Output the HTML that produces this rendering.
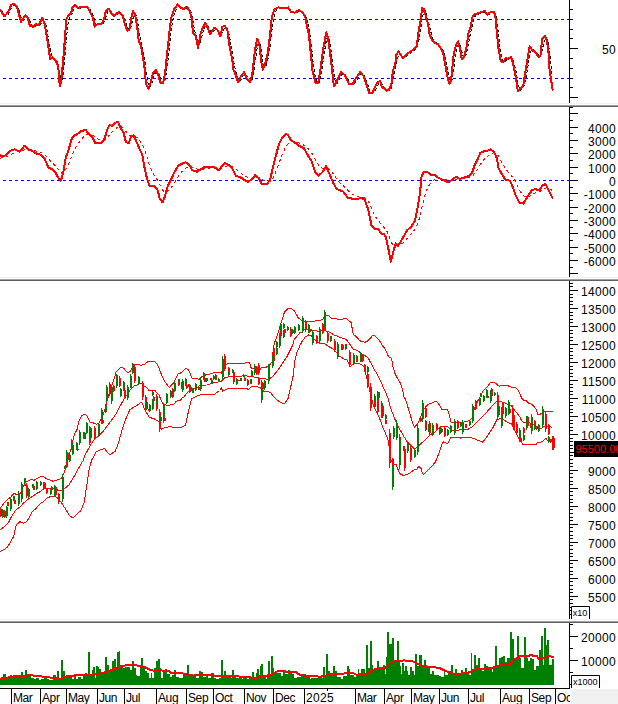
<!DOCTYPE html><html><head><meta charset="utf-8"><style>html,body{margin:0;padding:0;background:#fff;}body{width:618px;height:704px;overflow:hidden;}svg{display:block;}</style></head><body><svg width="618" height="704" viewBox="0 0 618 704">
<defs><clipPath id="c1"><rect x="0" y="0" width="569" height="103"/></clipPath><clipPath id="c2"><rect x="0" y="107" width="569" height="170"/></clipPath><clipPath id="c3"><rect x="0" y="280" width="569" height="339"/></clipPath><clipPath id="c4"><rect x="0" y="623" width="569" height="65"/></clipPath></defs>
<rect x="0" y="0" width="618" height="704" fill="#fff"/>
<g clip-path="url(#c1)">
<line x1="3" y1="19.5" x2="569" y2="19.5" stroke="#0000ff" stroke-width="1" stroke-dasharray="3,3"/>
<line x1="3" y1="78.5" x2="569" y2="78.5" stroke="#0000ff" stroke-width="1" stroke-dasharray="3,3"/>
<polyline points="0.0,10.2 1.0,10.9 2.0,11.6 3.0,12.4 4.0,13.8 5.0,14.9 6.0,15.4 7.0,15.2 8.0,14.4 9.0,13.0 10.0,11.4 11.0,9.4 12.0,7.5 13.0,6.0 14.0,5.0 15.0,4.8 16.0,5.2 17.0,6.1 18.0,7.8 19.0,10.2 20.0,13.2 21.0,16.9 22.0,19.2 23.0,20.2 24.0,20.0 25.0,18.4 26.0,17.3 27.0,16.8 28.0,17.3 29.0,19.0 30.0,21.5 31.0,23.9 32.0,25.8 33.0,26.8 34.0,26.8 35.0,26.5 36.0,26.0 37.0,25.5 38.0,25.2 39.0,25.2 40.0,24.7 41.0,23.7 42.0,22.2 43.0,20.8 44.0,20.7 45.0,22.1 46.0,25.5 47.0,30.1 48.0,35.7 49.0,41.9 50.0,48.3 51.0,53.5 52.0,56.8 53.0,58.5 54.0,58.8 55.0,59.1 56.0,59.9 57.0,61.3 58.0,63.0 59.0,67.8 60.0,73.8 61.0,78.1 62.0,79.8 63.0,75.4 64.0,66.8 65.0,55.8 66.0,43.6 67.0,32.7 68.0,24.2 69.0,18.7 70.0,16.4 71.0,15.2 72.0,13.5 73.0,11.3 74.0,9.3 75.0,7.3 76.0,6.4 77.0,6.6 78.0,7.0 79.0,7.6 80.0,8.0 81.0,8.0 82.0,7.9 83.0,7.8 84.0,7.8 85.0,7.8 86.0,7.7 87.0,7.6 88.0,7.7 89.0,8.4 90.0,9.6 91.0,11.3 92.0,13.3 93.0,15.3 94.0,18.1 95.0,21.3 96.0,23.7 97.0,25.3 98.0,25.6 99.0,25.1 100.0,24.8 101.0,24.8 102.0,24.5 103.0,23.8 104.0,22.4 105.0,20.1 106.0,16.9 107.0,14.0 108.0,11.6 109.0,10.3 110.0,10.4 111.0,11.0 112.0,12.2 113.0,13.7 114.0,14.9 115.0,15.5 116.0,15.4 117.0,14.9 118.0,14.1 119.0,13.5 120.0,13.3 121.0,13.4 122.0,14.0 123.0,15.3 124.0,17.3 125.0,19.9 126.0,23.0 127.0,26.1 128.0,28.4 129.0,29.8 130.0,29.5 131.0,27.1 132.0,23.3 133.0,18.6 134.0,15.3 135.0,13.8 136.0,15.0 137.0,18.8 138.0,24.1 139.0,30.8 140.0,36.6 141.0,41.6 142.0,46.2 143.0,50.4 144.0,55.6 145.0,62.3 146.0,70.4 147.0,77.3 148.0,83.3 149.0,86.8 150.0,86.9 151.0,85.8 152.0,83.1 153.0,79.4 154.0,76.2 155.0,73.5 156.0,71.9 157.0,71.8 158.0,72.5 159.0,74.2 160.0,76.9 161.0,79.7 162.0,81.9 163.0,83.3 164.0,82.6 165.0,80.2 166.0,75.4 167.0,68.3 168.0,60.0 169.0,50.7 170.0,41.5 171.0,32.7 172.0,25.2 173.0,19.4 174.0,15.0 175.0,12.1 176.0,9.8 177.0,7.9 178.0,6.7 179.0,6.2 180.0,6.4 181.0,7.1 182.0,8.0 183.0,8.6 184.0,9.0 185.0,9.0 186.0,8.7 187.0,8.2 188.0,8.1 189.0,8.6 190.0,9.9 191.0,12.1 192.0,15.6 193.0,21.2 194.0,26.6 195.0,31.6 196.0,35.4 197.0,37.9 198.0,41.2 199.0,43.0 200.0,42.8 201.0,40.3 202.0,36.0 203.0,32.2 204.0,29.3 205.0,27.0 206.0,25.6 207.0,25.3 208.0,26.2 209.0,28.1 210.0,30.5 211.0,32.1 212.0,32.7 213.0,32.3 214.0,31.0 215.0,29.9 216.0,29.3 217.0,29.3 218.0,29.9 219.0,31.2 220.0,32.8 221.0,33.8 222.0,33.2 223.0,31.5 224.0,29.2 225.0,27.4 226.0,27.2 227.0,28.1 228.0,30.2 229.0,34.2 230.0,39.3 231.0,45.2 232.0,51.0 233.0,57.0 234.0,62.6 235.0,67.6 236.0,72.1 237.0,75.3 238.0,78.0 239.0,79.8 240.0,80.4 241.0,79.8 242.0,78.0 243.0,76.2 244.0,74.7 245.0,74.2 246.0,74.6 247.0,76.1 248.0,78.1 249.0,80.0 250.0,81.3 251.0,81.2 252.0,80.0 253.0,76.5 254.0,70.6 255.0,63.5 256.0,55.9 257.0,48.9 258.0,44.4 259.0,42.6 260.0,43.9 261.0,48.9 262.0,55.1 263.0,61.6 264.0,65.8 265.0,66.9 266.0,65.7 267.0,62.5 268.0,58.6 269.0,53.2 270.0,46.8 271.0,38.9 272.0,30.3 273.0,23.0 274.0,16.8 275.0,12.9 276.0,10.8 277.0,9.5 278.0,8.8 279.0,8.4 280.0,8.2 281.0,8.2 282.0,8.4 283.0,8.7 284.0,8.8 285.0,8.9 286.0,8.9 287.0,8.8 288.0,8.6 289.0,8.6 290.0,9.1 291.0,10.1 292.0,11.3 293.0,12.2 294.0,12.8 295.0,12.9 296.0,12.8 297.0,12.5 298.0,12.0 299.0,11.4 300.0,11.2 301.0,11.3 302.0,11.7 303.0,12.5 304.0,13.4 305.0,14.5 306.0,16.7 307.0,20.0 308.0,24.0 309.0,28.8 310.0,35.0 311.0,42.3 312.0,51.2 313.0,60.7 314.0,68.5 315.0,74.7 316.0,79.0 317.0,81.5 318.0,83.1 319.0,82.5 320.0,79.7 321.0,75.1 322.0,68.8 323.0,62.0 324.0,55.1 325.0,48.6 326.0,42.6 327.0,38.5 328.0,36.9 329.0,38.4 330.0,43.1 331.0,49.8 332.0,57.6 333.0,65.9 334.0,74.3 335.0,80.2 336.0,83.4 337.0,84.0 338.0,82.0 339.0,80.0 340.0,78.0 341.0,76.1 342.0,74.6 343.0,73.8 344.0,73.8 345.0,74.5 346.0,75.7 347.0,77.3 348.0,79.3 349.0,81.4 350.0,83.0 351.0,84.1 352.0,84.6 353.0,84.4 354.0,83.8 355.0,82.7 356.0,81.2 357.0,79.5 358.0,77.9 359.0,76.4 360.0,74.9 361.0,74.0 362.0,73.8 363.0,74.2 364.0,75.5 365.0,77.4 366.0,79.6 367.0,82.2 368.0,85.2 369.0,88.3 370.0,90.7 371.0,92.5 372.0,93.4 373.0,93.1 374.0,92.2 375.0,90.7 376.0,88.7 377.0,86.5 378.0,84.7 379.0,83.4 380.0,82.4 381.0,82.6 382.0,84.0 383.0,85.5 384.0,87.2 385.0,88.5 386.0,89.1 387.0,89.8 388.0,90.2 389.0,90.3 390.0,89.8 391.0,88.6 392.0,85.9 393.0,81.3 394.0,76.3 395.0,71.0 396.0,65.5 397.0,61.2 398.0,57.4 399.0,54.3 400.0,53.5 401.0,53.7 402.0,54.8 403.0,56.4 404.0,57.4 405.0,57.7 406.0,57.2 407.0,56.2 408.0,55.1 409.0,54.2 410.0,53.4 411.0,52.7 412.0,52.0 413.0,51.4 414.0,50.8 415.0,50.0 416.0,49.0 417.0,47.6 418.0,44.4 419.0,39.8 420.0,34.1 421.0,27.2 422.0,20.3 423.0,15.1 424.0,11.3 425.0,10.4 426.0,12.5 427.0,15.5 428.0,19.2 429.0,23.6 430.0,28.1 431.0,32.4 432.0,36.4 433.0,38.9 434.0,40.6 435.0,41.9 436.0,42.7 437.0,43.5 438.0,44.1 439.0,44.8 440.0,45.8 441.0,47.1 442.0,48.7 443.0,50.4 444.0,53.0 445.0,56.6 446.0,61.1 447.0,66.5 448.0,71.9 449.0,76.6 450.0,80.1 451.0,81.6 452.0,79.6 453.0,74.3 454.0,66.9 455.0,59.2 456.0,52.6 457.0,48.1 458.0,45.2 459.0,44.1 460.0,45.1 461.0,48.0 462.0,52.3 463.0,55.6 464.0,57.5 465.0,57.1 466.0,54.7 467.0,51.3 468.0,46.3 469.0,40.7 470.0,35.6 471.0,30.9 472.0,26.6 473.0,22.9 474.0,19.4 475.0,16.6 476.0,15.2 477.0,14.7 478.0,14.3 479.0,13.9 480.0,13.5 481.0,13.1 482.0,12.8 483.0,12.5 484.0,12.2 485.0,12.0 486.0,12.2 487.0,12.8 488.0,13.5 489.0,14.0 490.0,14.0 491.0,13.5 492.0,12.9 493.0,12.5 494.0,12.5 495.0,13.1 496.0,16.0 497.0,21.6 498.0,29.4 499.0,38.7 500.0,47.0 501.0,53.8 502.0,58.3 503.0,61.1 504.0,62.2 505.0,61.6 506.0,60.6 507.0,59.7 508.0,59.2 509.0,59.0 510.0,58.8 511.0,58.4 512.0,58.7 513.0,59.9 514.0,62.6 515.0,66.7 516.0,71.5 517.0,77.1 518.0,82.8 519.0,87.0 520.0,89.6 521.0,90.3 522.0,89.1 523.0,87.8 524.0,85.7 525.0,82.2 526.0,77.6 527.0,71.9 528.0,65.7 529.0,59.6 530.0,54.3 531.0,50.8 532.0,49.1 533.0,49.2 534.0,50.4 535.0,51.4 536.0,52.3 537.0,53.3 538.0,54.4 539.0,55.7 540.0,56.4 541.0,55.3 542.0,51.5 543.0,46.6 544.0,41.9 545.0,38.3 546.0,37.7 547.0,38.6 548.0,41.7 549.0,47.9 550.0,56.2 551.0,65.7 552.0,74.9" fill="none" shape-rendering="crispEdges" stroke="#000" stroke-width="1" stroke-dasharray="3,2"/>
<polyline points="0.0,9.7 4.5,16.2 8.1,12.1 11.3,4.9 13.8,3.6 17.0,7.3 21.0,21.8 25.1,15.4 27.5,17.0 29.9,25.9 33.2,26.7 35.6,24.3 38.8,25.1 42.4,17.8 44.5,23.5 46.9,37.2 50.2,59.1 52.6,57.4 55.8,60.7 58.3,66.3 59.1,80.9 60.2,85.8 61.5,77.7 63.9,51.8 66.3,19.4 68.0,16.2 71.2,12.9 72.8,6.5 75.2,5.2 77.7,7.8 80.9,7.3 84.1,7.3 87.4,6.8 89.8,11.3 93.0,17.8 94.7,26.7 97.1,24.3 101.5,24.3 103.9,19.4 106.0,10.5 108.8,8.9 111.2,12.9 113.6,16.2 116.0,13.8 119.0,12.1 122.5,15.4 124.9,24.3 127.4,30.7 129.3,29.9 131.4,17.8 133.0,11.0 135.1,14.6 137.4,28.3 138.7,40.5 141.1,46.1 142.7,56.6 144.4,66.3 146.0,84.1 148.4,88.7 150.8,82.5 152.9,72.8 155.7,69.9 158.4,75.2 160.5,83.3 163.0,83.3 164.9,74.4 167.5,50.2 169.4,32.4 171.1,18.6 174.3,8.9 177.5,4.5 180.8,8.1 184.0,8.9 186.9,6.5 189.7,11.3 191.6,17.8 192.9,32.4 195.7,36.4 198.1,47.7 200.5,34.0 202.9,27.5 205.4,22.7 207.8,28.3 210.2,34.0 214.3,27.8 217.5,29.9 220.4,36.4 222.4,26.7 224.8,25.9 227.5,30.7 229.6,46.9 232.1,58.3 233.4,69.6 236.1,76.1 238.2,82.5 241.0,76.1 244.2,72.0 247.0,79.3 249.9,82.5 252.3,74.4 254.7,51.8 257.2,38.8 259.3,43.7 261.2,61.5 262.8,69.6 265.2,63.9 267.7,53.4 270.1,34.0 271.7,17.8 274.1,9.7 278.2,7.3 282.2,8.4 286.3,8.4 288.2,7.3 291.1,12.1 294.7,12.6 298.8,10.0 302.8,12.9 305.2,16.2 306.8,25.9 308.9,34.0 310.9,55.0 312.5,71.2 315.7,83.3 318.2,83.3 320.6,68.0 323.8,45.3 326.3,32.4 327.9,37.2 330.3,55.0 332.2,71.2 333.9,86.6 336.8,80.9 341.3,72.0 344.9,75.2 348.9,84.1 352.6,84.1 356.2,77.7 360.2,72.0 363.5,76.1 366.7,85.0 369.1,93.0 372.4,93.0 374.8,87.4 377.2,82.5 380.3,80.9 381.9,87.4 384.5,88.2 386.8,90.6 389.4,89.0 391.3,85.0 392.9,71.2 395.4,63.1 396.2,55.0 398.6,51.5 401.0,55.0 403.1,58.6 405.9,55.0 409.9,51.8 414.0,49.4 416.9,45.3 418.5,32.4 420.5,21.0 422.1,8.1 424.0,8.9 426.1,17.8 428.2,24.3 429.4,34.0 431.8,39.6 435.0,42.9 438.3,44.5 440.7,48.5 443.1,52.6 445.5,66.3 448.0,79.3 449.6,84.1 451.2,79.3 453.6,55.0 456.1,44.5 458.2,41.3 460.1,49.4 461.7,59.1 464.1,56.6 466.6,46.9 468.7,31.6 470.6,27.5 472.6,16.2 474.7,14.2 477.1,13.8 478.2,12.9 481.5,12.1 484.7,11.0 487.6,14.6 490.4,12.1 493.6,11.7 495.2,14.6 496.8,32.4 498.5,48.5 500.9,61.5 503.3,62.3 505.7,57.9 508.2,59.1 510.9,56.6 513.0,63.1 515.8,77.7 517.9,91.4 521.1,88.2 523.5,84.1 526.0,68.0 529.7,46.1 532.4,50.2 535.7,52.6 538.9,57.4 540.5,55.0 542.2,38.8 544.9,35.6 547.0,41.3 548.6,53.4 549.4,68.0 552.7,90.6" fill="none" shape-rendering="crispEdges" stroke="#ff0000" stroke-width="2" stroke-linejoin="round"/>
</g>
<g clip-path="url(#c2)">
<line x1="3" y1="180.5" x2="569" y2="180.5" stroke="#0000ff" stroke-width="1" stroke-dasharray="3,3"/>
<polyline points="0.0,158.3 1.0,158.0 2.0,157.7 3.0,157.5 4.0,157.3 5.0,157.1 6.0,156.8 7.0,156.5 8.0,156.1 9.0,155.6 10.0,155.0 11.0,154.5 12.0,153.9 13.0,153.4 14.0,152.9 15.0,152.4 16.0,152.1 17.0,151.9 18.0,151.8 19.0,151.8 20.0,151.7 21.0,151.5 22.0,151.1 23.0,150.7 24.0,150.1 25.0,149.6 26.0,149.3 27.0,149.2 28.0,149.2 29.0,149.3 30.0,149.4 31.0,149.5 32.0,149.7 33.0,149.9 34.0,150.2 35.0,150.5 36.0,150.9 37.0,151.2 38.0,151.6 39.0,151.9 40.0,152.3 41.0,152.6 42.0,153.0 43.0,153.5 44.0,154.1 45.0,154.8 46.0,155.8 47.0,156.9 48.0,158.1 49.0,159.4 50.0,160.6 51.0,161.6 52.0,162.6 53.0,163.6 54.0,164.7 55.0,165.7 56.0,166.7 57.0,167.8 58.0,169.0 59.0,170.3 60.0,171.6 61.0,172.7 62.0,173.3 63.0,173.3 64.0,172.6 65.0,171.2 66.0,169.3 67.0,167.4 68.0,165.3 69.0,163.1 70.0,160.7 71.0,158.1 72.0,155.6 73.0,153.2 74.0,150.9 75.0,148.9 76.0,147.1 77.0,145.4 78.0,143.8 79.0,142.4 80.0,141.0 81.0,139.8 82.0,138.6 83.0,137.6 84.0,136.6 85.0,135.8 86.0,135.1 87.0,134.6 88.0,134.4 89.0,134.4 90.0,134.5 91.0,134.8 92.0,135.1 93.0,135.5 94.0,136.2 95.0,137.0 96.0,137.8 97.0,138.5 98.0,139.1 99.0,139.6 100.0,140.1 101.0,140.5 102.0,140.7 103.0,140.7 104.0,140.5 105.0,140.1 106.0,139.3 107.0,138.1 108.0,136.8 109.0,135.4 110.0,134.1 111.0,133.0 112.0,132.0 113.0,131.1 114.0,130.2 115.0,129.3 116.0,128.4 117.0,127.6 118.0,126.9 119.0,126.6 120.0,126.6 121.0,126.8 122.0,127.2 123.0,127.8 124.0,128.7 125.0,129.9 126.0,131.5 127.0,132.9 128.0,134.2 129.0,135.3 130.0,135.9 131.0,136.0 132.0,135.9 133.0,135.9 134.0,136.0 135.0,136.3 136.0,136.8 137.0,137.6 138.0,138.6 139.0,139.8 140.0,141.1 141.0,142.5 142.0,144.0 143.0,146.0 144.0,148.4 145.0,151.2 146.0,154.2 147.0,157.3 148.0,160.5 149.0,163.6 150.0,166.5 151.0,169.0 152.0,171.2 153.0,173.1 154.0,174.8 155.0,176.4 156.0,177.9 157.0,179.4 158.0,181.0 159.0,182.9 160.0,185.0 161.0,187.0 162.0,188.9 163.0,190.5 164.0,191.6 165.0,192.2 166.0,192.3 167.0,191.8 168.0,191.0 169.0,190.1 170.0,189.0 171.0,187.8 172.0,186.4 173.0,185.0 174.0,183.5 175.0,181.9 176.0,180.3 177.0,178.7 178.0,177.0 179.0,175.5 180.0,174.1 181.0,172.9 182.0,171.7 183.0,170.6 184.0,169.6 185.0,168.6 186.0,167.8 187.0,167.2 188.0,166.8 189.0,166.6 190.0,166.5 191.0,166.7 192.0,167.1 193.0,167.5 194.0,168.0 195.0,168.4 196.0,168.8 197.0,169.1 198.0,169.4 199.0,169.5 200.0,169.6 201.0,169.5 202.0,169.4 203.0,169.2 204.0,169.0 205.0,168.7 206.0,168.5 207.0,168.3 208.0,168.2 209.0,168.1 210.0,168.0 211.0,167.9 212.0,167.8 213.0,167.8 214.0,167.7 215.0,167.8 216.0,167.8 217.0,168.0 218.0,168.2 219.0,168.5 220.0,168.5 221.0,168.4 222.0,168.1 223.0,167.6 224.0,167.1 225.0,166.6 226.0,166.2 227.0,165.9 228.0,165.8 229.0,165.7 230.0,165.8 231.0,166.0 232.0,166.3 233.0,166.8 234.0,167.5 235.0,168.3 236.0,169.3 237.0,170.2 238.0,171.0 239.0,171.8 240.0,172.5 241.0,173.2 242.0,173.8 243.0,174.5 244.0,175.2 245.0,175.9 246.0,176.5 247.0,177.1 248.0,177.7 249.0,178.2 250.0,178.5 251.0,178.7 252.0,178.7 253.0,178.6 254.0,178.3 255.0,178.0 256.0,177.7 257.0,177.5 258.0,177.6 259.0,177.7 260.0,178.1 261.0,178.6 262.0,179.4 263.0,180.0 264.0,180.6 265.0,181.1 266.0,181.5 267.0,181.8 268.0,181.9 269.0,181.8 270.0,181.6 271.0,180.8 272.0,179.6 273.0,178.0 274.0,176.0 275.0,173.8 276.0,171.4 277.0,168.9 278.0,166.1 279.0,163.3 280.0,160.5 281.0,157.9 282.0,155.3 283.0,152.9 284.0,150.7 285.0,148.6 286.0,146.7 287.0,145.1 288.0,143.8 289.0,142.9 290.0,142.3 291.0,142.1 292.0,141.9 293.0,141.9 294.0,141.9 295.0,142.0 296.0,142.2 297.0,142.4 298.0,142.7 299.0,143.1 300.0,143.5 301.0,144.0 302.0,144.4 303.0,144.8 304.0,145.3 305.0,145.9 306.0,146.7 307.0,147.6 308.0,148.6 309.0,149.7 310.0,150.9 311.0,152.1 312.0,153.5 313.0,155.0 314.0,156.8 315.0,158.7 316.0,160.6 317.0,162.4 318.0,164.1 319.0,165.5 320.0,166.7 321.0,167.5 322.0,168.2 323.0,168.6 324.0,168.7 325.0,168.6 326.0,168.3 327.0,168.3 328.0,168.6 329.0,169.2 330.0,170.0 331.0,171.0 332.0,172.2 333.0,173.5 334.0,174.9 335.0,176.3 336.0,177.8 337.0,179.3 338.0,180.6 339.0,181.8 340.0,182.9 341.0,183.9 342.0,184.9 343.0,185.7 344.0,186.6 345.0,187.6 346.0,188.6 347.0,189.6 348.0,190.7 349.0,191.6 350.0,192.5 351.0,193.2 352.0,193.9 353.0,194.6 354.0,195.1 355.0,195.7 356.0,196.1 357.0,196.5 358.0,196.8 359.0,197.1 360.0,197.2 361.0,197.3 362.0,197.4 363.0,197.6 364.0,197.8 365.0,198.2 366.0,198.9 367.0,199.9 368.0,201.0 369.0,202.6 370.0,204.6 371.0,207.0 372.0,209.5 373.0,211.7 374.0,213.9 375.0,215.8 376.0,217.5 377.0,219.0 378.0,220.3 379.0,221.6 380.0,222.9 381.0,224.2 382.0,225.5 383.0,226.6 384.0,227.6 385.0,228.7 386.0,229.8 387.0,231.4 388.0,233.5 389.0,235.9 390.0,238.6 391.0,241.6 392.0,243.6 393.0,244.8 394.0,245.4 395.0,245.5 396.0,245.3 397.0,245.2 398.0,245.3 399.0,245.2 400.0,244.9 401.0,244.4 402.0,243.7 403.0,242.9 404.0,242.0 405.0,240.9 406.0,239.8 407.0,238.6 408.0,237.4 409.0,236.2 410.0,235.1 411.0,234.1 412.0,233.0 413.0,231.8 414.0,230.5 415.0,229.2 416.0,227.4 417.0,225.2 418.0,222.6 419.0,219.6 420.0,216.1 421.0,211.7 422.0,207.0 423.0,202.7 424.0,198.7 425.0,195.2 426.0,192.2 427.0,189.5 428.0,187.3 429.0,185.5 430.0,184.0 431.0,182.8 432.0,181.7 433.0,180.9 434.0,180.1 435.0,179.5 436.0,179.1 437.0,178.8 438.0,178.6 439.0,178.5 440.0,178.5 441.0,178.6 442.0,178.7 443.0,178.9 444.0,179.0 445.0,179.2 446.0,179.5 447.0,179.8 448.0,180.1 449.0,180.3 450.0,180.5 451.0,180.5 452.0,180.4 453.0,180.2 454.0,180.0 455.0,179.7 456.0,179.3 457.0,179.0 458.0,178.8 459.0,178.8 460.0,178.8 461.0,178.8 462.0,178.7 463.0,178.6 464.0,178.5 465.0,178.3 466.0,178.2 467.0,178.0 468.0,177.8 469.0,177.5 470.0,177.2 471.0,176.8 472.0,176.2 473.0,175.4 474.0,174.3 475.0,173.0 476.0,171.7 477.0,170.2 478.0,168.7 479.0,167.0 480.0,165.3 481.0,163.6 482.0,162.1 483.0,160.8 484.0,159.6 485.0,158.4 486.0,157.5 487.0,156.6 488.0,155.8 489.0,155.1 490.0,154.4 491.0,153.7 492.0,153.3 493.0,153.0 494.0,152.9 495.0,153.1 496.0,153.5 497.0,154.2 498.0,155.6 499.0,157.3 500.0,159.1 501.0,160.8 502.0,162.5 503.0,164.3 504.0,166.0 505.0,167.7 506.0,169.3 507.0,170.6 508.0,171.9 509.0,173.0 510.0,174.0 511.0,175.2 512.0,176.5 513.0,177.9 514.0,179.5 515.0,181.3 516.0,183.2 517.0,185.1 518.0,187.1 519.0,189.0 520.0,190.8 521.0,192.4 522.0,193.9 523.0,195.1 524.0,196.1 525.0,196.7 526.0,197.0 527.0,197.1 528.0,196.9 529.0,196.6 530.0,196.1 531.0,195.5 532.0,194.8 533.0,194.2 534.0,193.6 535.0,193.0 536.0,192.5 537.0,192.2 538.0,191.9 539.0,191.7 540.0,191.3 541.0,190.8 542.0,190.3 543.0,189.6 544.0,189.0 545.0,188.3 546.0,187.9 547.0,187.7 548.0,187.9 549.0,188.3 550.0,188.9 551.0,189.7 552.0,190.7" fill="none" shape-rendering="crispEdges" stroke="#ff0000" stroke-width="1" stroke-dasharray="3,3"/>
<polyline points="0.0,155.3 3.6,156.5 7.2,154.1 10.9,150.5 14.5,149.3 19.3,151.7 21.7,149.3 24.6,145.6 27.8,149.3 31.4,150.5 36.2,153.4 41.1,154.8 44.7,158.9 48.3,167.4 51.9,169.3 56.0,173.4 59.2,179.5 60.9,180.7 63.3,172.2 65.7,157.7 68.8,149.3 71.3,139.6 73.7,136.0 77.3,134.1 80.9,131.2 85.7,129.9 89.4,134.8 93.0,138.4 95.4,143.2 101.0,143.2 104.7,138.4 107.1,129.9 109.5,125.1 112.4,125.8 115.5,122.7 118.0,122.0 120.4,127.5 123.5,132.4 125.9,142.0 128.8,143.2 131.2,136.0 133.6,135.5 136.1,140.8 139.7,149.3 142.1,154.1 144.5,167.4 146.9,178.3 149.3,185.5 154.2,186.2 157.8,190.3 159.7,198.8 162.6,202.4 165.0,196.4 167.5,186.7 171.1,179.5 174.7,171.7 178.3,165.7 182.0,163.8 185.6,162.1 189.2,165.0 192.4,170.3 197.2,171.7 200.9,169.3 204.5,166.9 209.3,167.4 214.2,167.4 219.0,170.3 222.6,165.0 225.0,163.0 228.6,165.0 232.3,168.6 235.9,175.8 240.7,177.5 244.3,179.9 248.0,181.9 251.6,179.5 255.2,175.1 258.8,178.3 262.0,184.3 266.8,184.3 270.2,179.5 272.6,168.6 275.7,156.5 278.9,144.4 281.8,138.4 285.4,134.1 287.9,134.8 291.0,140.3 295.9,143.2 299.5,146.1 303.8,148.1 307.9,155.3 311.6,161.3 315.2,172.2 318.3,175.8 322.4,172.2 326.1,166.2 329.7,174.6 333.3,183.1 336.9,189.1 343.0,191.5 347.8,197.6 352.6,198.8 357.5,199.3 361.1,197.6 364.7,200.0 368.3,209.7 371.5,225.4 374.9,229.0 378.0,229.0 381.6,233.8 383.6,233.8 386.0,237.4 388.5,249.5 390.9,261.6 393.3,251.9 395.7,243.5 398.1,245.9 401.7,239.9 407.1,230.2 411.4,226.6 415.0,220.5 417.4,208.4 419.9,194.0 421.5,177.0 423.5,172.2 427.1,171.7 430.7,174.6 435.1,175.4 439.2,178.3 444.0,180.2 448.4,182.4 452.5,179.5 456.1,176.6 459.7,179.0 464.5,177.5 469.4,175.8 472.3,172.2 474.7,165.0 477.8,158.9 480.3,152.9 484.7,151.0 488.3,150.5 490.7,149.3 494.3,152.4 496.7,157.7 498.7,168.6 501.6,173.4 505.2,179.5 510.0,180.7 513.2,187.9 516.1,196.4 519.7,203.1 523.3,203.6 526.9,197.6 531.8,190.3 535.4,189.1 539.0,190.3 542.6,185.5 545.5,183.8 548.7,190.3 552.8,198.8" fill="none" shape-rendering="crispEdges" stroke="#ff0000" stroke-width="2" stroke-linejoin="round"/>
</g>
<g clip-path="url(#c3)">
<polyline points="0.0,508.3 2.8,504.7 7.1,499.8 10.7,497.2 13.5,493.8 14.9,493.5 16.4,495.0 18.8,494.2 21.1,492.7 22.7,488.0 25.0,482.5 26.6,481.3 28.9,480.9 31.3,479.4 34.1,480.2 38.4,477.8 41.9,476.3 44.9,477.5 47.7,479.5 50.8,480.2 53.2,481.4 54.7,480.6 58.1,479.6 61.2,478.8 62.4,476.1 63.6,473.8 64.8,470.6 65.9,465.9 66.7,462.0 67.9,458.1 69.5,453.4 71.0,449.5 72.2,444.0 73.4,437.8 74.9,433.1 76.9,430.0 79.1,420.5 81.6,415.7 85.1,414.0 87.6,417.0 90.2,422.2 92.6,422.6 96.4,424.2 99.0,422.9 100.9,419.7 102.8,415.2 104.7,410.1 106.6,402.4 108.5,396.0 110.5,388.4 112.4,383.9 114.3,378.1 116.2,371.7 118.8,369.2 121.3,367.0 123.9,368.5 126.4,371.7 128.4,372.8 130.3,371.1 132.2,367.9 133.4,365.4 135.4,364.4 139.2,364.4 140.9,365.4 144.4,364.4 146.4,362.4 149.0,361.5 154.5,361.3 157.4,364.7 158.7,367.3 160.6,372.5 162.5,377.0 164.5,381.2 169.4,387.5 174.0,382.3 178.1,373.6 180.7,373.0 186.0,368.1 187.9,369.4 189.9,372.7 191.8,377.8 192.5,378.5 197.7,378.5 198.9,379.8 200.2,377.8 202.2,376.5 204.1,375.6 206.7,374.5 210.6,373.9 211.9,373.3 214.5,372.3 219.7,372.3 221.3,373.3 222.1,370.9 223.8,364.9 226.0,364.3 229.0,363.3 244.6,363.3 245.7,362.3 249.5,362.3 250.2,364.7 251.3,368.4 260.3,369.1 261.4,367.3 268.4,366.9 269.9,364.7 272.0,361.7 273.4,347.9 275.1,341.1 277.7,334.3 280.2,325.8 282.8,317.3 284.5,312.1 287.9,308.7 291.3,308.4 294.7,311.3 298.4,318.1 304.0,321.8 313.4,321.8 315.9,320.4 322.8,319.9 324.3,316.4 326.8,315.4 328.8,315.9 331.8,318.4 334.3,318.4 338.7,319.4 343.7,318.9 346.0,317.9 349.5,321.5 351.1,322.3 352.3,329.1 353.4,334.8 356.3,336.5 359.1,339.9 360.8,341.4 364.8,342.2 367.0,341.6 369.9,338.8 372.7,335.3 375.0,335.9 377.3,338.2 380.1,341.6 382.4,345.6 384.7,348.4 386.4,351.8 388.6,356.9 390.9,358.1 392.0,360.9 393.2,367.7 394.9,373.4 397.2,378.0 400.0,382.5 401.7,387.0 402.8,390.5 404.0,397.3 405.5,399.1 408.9,410.5 412.3,421.8 414.5,427.5 418.4,422.8 421.0,416.0 422.7,410.9 424.9,407.9 426.5,405.9 428.9,403.9 432.1,403.1 435.0,401.1 437.4,402.3 439.4,405.1 441.8,409.2 447.1,409.6 448.7,412.4 449.5,416.0 450.7,421.7 452.0,422.5 454.0,422.1 463.7,422.1 466.9,421.3 470.0,420.1 471.9,418.5 473.4,410.8 475.8,405.0 479.7,397.3 483.5,390.5 487.4,386.7 490.3,382.8 492.2,382.3 495.6,383.3 499.0,386.2 502.8,385.2 507.2,385.5 510.5,386.7 513.0,387.7 515.4,387.7 518.3,390.5 520.0,393.9 520.3,395.0 522.0,398.4 523.7,400.5 526.2,400.5 528.8,403.1 531.8,404.4 534.3,406.9 536.5,409.9 537.7,414.2 539.9,414.6 541.6,413.3 543.3,411.6 545.8,411.2 548.4,412.0 552.7,411.2" fill="none" shape-rendering="crispEdges" stroke="#ff0000" stroke-width="1"/>
<polyline points="0.0,529.6 4.3,526.8 8.5,522.5 11.4,516.8 15.6,510.4 19.9,506.9 24.1,502.6 28.4,499.1 32.7,496.2 36.9,493.4 41.2,491.0 44.2,488.3 53.5,488.3 57.5,490.0 61.4,490.8 64.5,488.5 68.0,485.7 69.1,484.7 73.0,478.4 77.7,469.8 80.8,464.4 83.1,460.5 85.0,455.0 91.0,444.3 95.1,438.2 99.0,435.7 102.8,431.8 106.6,426.7 110.5,421.6 114.3,416.5 117.5,411.4 120.7,405.0 123.9,399.2 127.1,394.8 131.5,388.0 134.1,386.1 136.7,385.1 139.2,383.5 141.8,383.5 143.8,385.7 146.4,387.4 149.0,390.3 154.8,390.3 156.7,392.5 158.7,394.5 162.2,402.8 166.4,405.4 170.1,405.0 172.0,404.4 174.3,403.9 176.1,401.3 180.2,400.3 182.2,398.0 184.3,396.7 185.8,394.4 187.9,391.9 189.4,390.3 191.4,389.3 193.5,388.5 196.0,388.3 198.9,386.2 200.9,385.3 206.7,385.0 211.9,383.3 216.4,382.4 221.3,381.1 224.8,377.8 226.0,377.5 229.7,376.6 234.2,376.2 240.9,376.4 244.6,375.3 249.8,376.6 257.3,377.3 261.0,378.8 268.0,379.1 271.5,377.6 275.0,373.7 278.9,368.7 282.9,362.7 286.9,356.8 289.9,350.8 292.4,345.8 294.3,339.4 296.8,336.4 299.8,332.9 302.3,331.9 304.0,329.8 308.0,329.3 312.9,330.3 318.9,331.3 323.8,330.3 328.8,331.8 333.8,334.8 339.7,337.2 346.0,339.2 350.0,344.4 351.7,347.3 353.4,349.3 356.3,350.1 359.1,351.8 361.4,353.5 364.2,355.5 366.5,356.4 368.8,359.2 371.0,363.2 373.9,368.9 376.7,373.4 379.0,378.0 381.3,382.5 383.5,388.2 385.8,392.7 388.1,398.4 390.7,408.2 394.1,417.3 397.5,425.2 402.0,433.2 406.6,441.1 411.1,445.7 415.0,449.2 420.0,444.4 424.9,440.3 429.7,435.0 434.6,432.2 438.6,428.2 441.8,426.1 446.7,426.1 449.1,427.8 450.7,429.8 454.0,430.2 465.3,429.8 468.5,429.0 470.0,428.2 472.9,426.3 475.8,423.4 479.7,419.5 483.5,415.6 487.4,411.3 491.2,407.0 496.1,402.1 499.0,401.2 503.8,402.6 508.6,404.5 511.5,406.0 514.4,409.9 517.3,413.7 520.0,417.1 521.1,419.7 523.2,422.3 527.1,422.7 530.5,423.1 533.9,424.8 536.5,427.4 539.0,428.7 541.6,428.2 543.3,427.0 546.7,426.5 550.1,426.5 552.2,427.8" fill="none" shape-rendering="crispEdges" stroke="#ff0000" stroke-width="1"/>
<polyline points="0.0,551.6 4.3,549.5 7.1,547.4 9.9,543.1 13.5,536.7 14.9,531.0 16.3,524.6 19.9,521.8 23.4,523.2 26.3,521.8 29.8,516.8 32.0,511.8 35.5,509.0 39.8,504.0 44.0,501.2 47.6,497.6 51.8,496.3 56.9,497.2 61.2,502.3 65.5,509.1 69.7,515.9 73.1,517.9 76.5,514.2 80.8,510.8 84.2,502.3 86.8,485.2 89.3,468.2 91.9,459.7 96.1,452.0 99.5,450.3 104.3,448.4 109.4,454.8 115.3,451.3 118.7,442.0 122.1,430.0 125.5,419.8 129.8,409.6 134.1,407.1 138.3,404.5 141.7,402.0 145.1,410.5 149.4,417.3 154.5,419.0 158.8,421.5 161.3,429.2 164.7,427.5 170.1,426.7 175.2,427.4 182.0,427.1 185.4,425.4 188.8,410.0 191.4,399.0 195.7,396.4 200.8,394.7 205.9,394.4 211.0,394.7 215.2,393.9 219.5,390.5 221.2,387.9 222.9,391.3 226.0,389.4 229.0,388.5 246.8,388.5 248.3,389.4 251.3,386.6 257.3,386.6 260.3,387.8 262.5,390.6 264.7,391.5 268.4,391.6 270.7,392.6 272.0,394.5 272.6,395.6 276.0,399.0 280.2,402.4 284.5,403.8 287.9,399.0 290.4,388.0 292.9,377.6 294.8,360.7 296.8,352.8 299.8,345.8 302.3,340.9 304.0,338.9 304.5,337.2 308.9,334.8 311.9,336.2 316.9,342.2 319.9,343.2 323.8,343.2 328.8,346.7 332.8,348.7 335.7,351.6 338.7,355.6 341.7,357.6 346.0,360.1 346.9,359.8 350.4,366.6 353.8,363.2 358.0,363.2 362.2,365.2 364.0,367.1 373.7,406.4 377.1,413.2 379.6,418.4 383.0,427.7 385.6,433.7 387.7,438.8 388.8,444.6 390.8,459.4 393.5,464.8 396.2,464.8 399.6,473.6 403.6,475.6 409.0,473.6 413.7,470.2 417.1,468.9 419.1,466.2 421.2,468.9 422.5,473.6 424.0,474.3 426.9,471.3 431.2,467.1 435.4,462.0 438.8,453.5 441.8,444.4 443.5,441.9 446.7,443.5 448.3,442.7 450.7,437.9 451.6,437.1 459.6,437.1 460.5,438.3 462.1,437.1 470.0,437.1 472.9,438.3 476.8,439.8 482.5,442.2 485.4,438.8 489.3,433.0 493.2,427.2 497.0,419.5 500.9,418.5 504.7,420.5 508.6,422.9 511.5,423.8 514.4,429.2 517.3,435.9 520.0,439.8 522.8,444.4 536.5,444.4 537.3,442.3 542.4,441.9 544.1,440.2 545.8,438.5 547.5,440.2 550.1,440.2 552.5,440.2" fill="none" shape-rendering="crispEdges" stroke="#ff0000" stroke-width="1"/>
<rect x="0" y="508" width="1" height="9" fill="#ff0000"/>
<rect x="0" y="509" width="2" height="7" fill="#ff0000"/>
<rect x="2" y="509" width="1" height="9" fill="#008000"/>
<rect x="2" y="510" width="2" height="7" fill="#008000"/>
<rect x="4" y="510" width="1" height="8" fill="#ff0000"/>
<rect x="4" y="511" width="2" height="6" fill="#ff0000"/>
<rect x="6" y="506" width="1" height="12" fill="#008000"/>
<rect x="6" y="507" width="2" height="9" fill="#008000"/>
<rect x="7" y="502" width="1" height="4" fill="#ff0000"/>
<rect x="7" y="502" width="2" height="4" fill="#ff0000"/>
<rect x="10" y="497" width="1" height="14" fill="#008000"/>
<rect x="10" y="499" width="2" height="10" fill="#008000"/>
<rect x="13" y="496" width="1" height="5" fill="#008000"/>
<rect x="13" y="496" width="2" height="5" fill="#008000"/>
<rect x="14" y="500" width="1" height="4" fill="#ff0000"/>
<rect x="14" y="500" width="2" height="4" fill="#ff0000"/>
<rect x="18" y="491" width="1" height="15" fill="#008000"/>
<rect x="18" y="493" width="2" height="11" fill="#008000"/>
<rect x="21" y="490" width="1" height="10" fill="#ff0000"/>
<rect x="21" y="491" width="2" height="8" fill="#ff0000"/>
<rect x="21" y="482" width="1" height="20" fill="#008000"/>
<rect x="21" y="484" width="2" height="15" fill="#008000"/>
<rect x="24" y="478" width="1" height="5" fill="#008000"/>
<rect x="24" y="478" width="2" height="5" fill="#008000"/>
<rect x="24" y="483" width="1" height="3" fill="#ff0000"/>
<rect x="24" y="484" width="2" height="2" fill="#ff0000"/>
<rect x="26" y="483" width="1" height="15" fill="#ff0000"/>
<rect x="26" y="485" width="2" height="11" fill="#ff0000"/>
<rect x="28" y="488" width="1" height="10" fill="#008000"/>
<rect x="28" y="489" width="2" height="8" fill="#008000"/>
<rect x="32" y="484" width="1" height="4" fill="#008000"/>
<rect x="32" y="484" width="2" height="4" fill="#008000"/>
<rect x="33" y="485" width="1" height="5" fill="#ff0000"/>
<rect x="33" y="486" width="2" height="4" fill="#ff0000"/>
<rect x="36" y="481" width="1" height="9" fill="#008000"/>
<rect x="36" y="482" width="2" height="7" fill="#008000"/>
<rect x="40" y="481" width="1" height="5" fill="#008000"/>
<rect x="40" y="482" width="2" height="3" fill="#008000"/>
<rect x="43" y="482" width="1" height="6" fill="#008000"/>
<rect x="43" y="483" width="2" height="4" fill="#008000"/>
<rect x="44" y="482" width="1" height="7" fill="#ff0000"/>
<rect x="44" y="483" width="2" height="5" fill="#ff0000"/>
<rect x="46" y="489" width="1" height="5" fill="#ff0000"/>
<rect x="46" y="489" width="2" height="4" fill="#ff0000"/>
<rect x="50" y="489" width="1" height="6" fill="#008000"/>
<rect x="50" y="490" width="2" height="4" fill="#008000"/>
<rect x="51" y="486" width="1" height="5" fill="#008000"/>
<rect x="51" y="487" width="2" height="3" fill="#008000"/>
<rect x="54" y="485" width="1" height="12" fill="#008000"/>
<rect x="54" y="487" width="2" height="9" fill="#008000"/>
<rect x="55" y="486" width="1" height="10" fill="#ff0000"/>
<rect x="55" y="487" width="2" height="8" fill="#ff0000"/>
<rect x="58" y="493" width="1" height="11" fill="#ff0000"/>
<rect x="58" y="494" width="2" height="8" fill="#ff0000"/>
<rect x="62" y="474" width="1" height="28" fill="#008000"/>
<rect x="62" y="477" width="2" height="22" fill="#008000"/>
<rect x="64" y="466" width="1" height="3" fill="#008000"/>
<rect x="64" y="466" width="2" height="2" fill="#008000"/>
<rect x="66" y="450" width="1" height="18" fill="#008000"/>
<rect x="66" y="452" width="2" height="14" fill="#008000"/>
<rect x="66" y="461" width="1" height="7" fill="#ff0000"/>
<rect x="66" y="462" width="2" height="5" fill="#ff0000"/>
<rect x="68" y="453" width="1" height="7" fill="#ff0000"/>
<rect x="68" y="454" width="2" height="6" fill="#ff0000"/>
<rect x="69" y="454" width="1" height="8" fill="#008000"/>
<rect x="69" y="455" width="2" height="6" fill="#008000"/>
<rect x="71" y="439" width="1" height="11" fill="#ff0000"/>
<rect x="71" y="441" width="2" height="7" fill="#ff0000"/>
<rect x="72" y="444" width="1" height="11" fill="#008000"/>
<rect x="72" y="445" width="2" height="9" fill="#008000"/>
<rect x="76" y="442" width="1" height="8" fill="#008000"/>
<rect x="76" y="443" width="2" height="6" fill="#008000"/>
<rect x="77" y="449" width="1" height="2" fill="#ff0000"/>
<rect x="77" y="449" width="2" height="1" fill="#ff0000"/>
<rect x="79" y="430" width="1" height="15" fill="#008000"/>
<rect x="79" y="432" width="2" height="11" fill="#008000"/>
<rect x="83" y="432" width="1" height="7" fill="#ff0000"/>
<rect x="83" y="433" width="2" height="6" fill="#ff0000"/>
<rect x="84" y="432" width="1" height="7" fill="#008000"/>
<rect x="84" y="433" width="2" height="6" fill="#008000"/>
<rect x="86" y="422" width="1" height="12" fill="#008000"/>
<rect x="86" y="423" width="2" height="10" fill="#008000"/>
<rect x="89" y="426" width="1" height="19" fill="#ff0000"/>
<rect x="89" y="428" width="2" height="15" fill="#ff0000"/>
<rect x="90" y="427" width="1" height="13" fill="#008000"/>
<rect x="90" y="428" width="2" height="10" fill="#008000"/>
<rect x="94" y="426" width="1" height="14" fill="#ff0000"/>
<rect x="94" y="428" width="2" height="10" fill="#ff0000"/>
<rect x="98" y="423" width="1" height="13" fill="#008000"/>
<rect x="98" y="424" width="2" height="10" fill="#008000"/>
<rect x="101" y="408" width="1" height="16" fill="#008000"/>
<rect x="101" y="410" width="2" height="12" fill="#008000"/>
<rect x="102" y="420" width="1" height="4" fill="#ff0000"/>
<rect x="102" y="420" width="2" height="3" fill="#ff0000"/>
<rect x="105" y="404" width="1" height="9" fill="#008000"/>
<rect x="105" y="405" width="2" height="7" fill="#008000"/>
<rect x="106" y="385" width="1" height="16" fill="#008000"/>
<rect x="106" y="387" width="2" height="12" fill="#008000"/>
<rect x="109" y="382" width="1" height="14" fill="#ff0000"/>
<rect x="109" y="384" width="2" height="10" fill="#ff0000"/>
<rect x="111" y="385" width="1" height="19" fill="#008000"/>
<rect x="111" y="387" width="2" height="14" fill="#008000"/>
<rect x="113" y="385" width="1" height="7" fill="#ff0000"/>
<rect x="113" y="386" width="2" height="5" fill="#ff0000"/>
<rect x="116" y="374" width="1" height="14" fill="#008000"/>
<rect x="116" y="375" width="2" height="11" fill="#008000"/>
<rect x="119" y="376" width="1" height="11" fill="#ff0000"/>
<rect x="119" y="378" width="2" height="8" fill="#ff0000"/>
<rect x="120" y="388" width="1" height="9" fill="#008000"/>
<rect x="120" y="389" width="2" height="7" fill="#008000"/>
<rect x="123" y="381" width="1" height="10" fill="#008000"/>
<rect x="123" y="382" width="2" height="8" fill="#008000"/>
<rect x="124" y="388" width="1" height="10" fill="#ff0000"/>
<rect x="124" y="390" width="2" height="7" fill="#ff0000"/>
<rect x="127" y="385" width="1" height="15" fill="#008000"/>
<rect x="127" y="387" width="2" height="11" fill="#008000"/>
<rect x="130" y="374" width="1" height="14" fill="#008000"/>
<rect x="130" y="376" width="2" height="11" fill="#008000"/>
<rect x="132" y="363" width="1" height="11" fill="#008000"/>
<rect x="132" y="364" width="2" height="9" fill="#008000"/>
<rect x="134" y="365" width="1" height="18" fill="#ff0000"/>
<rect x="134" y="367" width="2" height="14" fill="#ff0000"/>
<rect x="138" y="376" width="1" height="9" fill="#008000"/>
<rect x="138" y="377" width="2" height="7" fill="#008000"/>
<rect x="142" y="381" width="1" height="19" fill="#ff0000"/>
<rect x="142" y="383" width="2" height="14" fill="#ff0000"/>
<rect x="145" y="395" width="1" height="16" fill="#ff0000"/>
<rect x="145" y="397" width="2" height="12" fill="#ff0000"/>
<rect x="146" y="401" width="1" height="9" fill="#008000"/>
<rect x="146" y="402" width="2" height="7" fill="#008000"/>
<rect x="148" y="409" width="1" height="2" fill="#ff0000"/>
<rect x="148" y="409" width="2" height="2" fill="#ff0000"/>
<rect x="149" y="404" width="1" height="8" fill="#008000"/>
<rect x="149" y="405" width="2" height="6" fill="#008000"/>
<rect x="152" y="399" width="1" height="11" fill="#008000"/>
<rect x="152" y="400" width="2" height="9" fill="#008000"/>
<rect x="152" y="391" width="1" height="5" fill="#008000"/>
<rect x="152" y="392" width="2" height="3" fill="#008000"/>
<rect x="153" y="396" width="1" height="6" fill="#ff0000"/>
<rect x="153" y="397" width="2" height="4" fill="#ff0000"/>
<rect x="156" y="394" width="1" height="17" fill="#ff0000"/>
<rect x="156" y="396" width="2" height="13" fill="#ff0000"/>
<rect x="156" y="398" width="1" height="6" fill="#008000"/>
<rect x="156" y="399" width="2" height="4" fill="#008000"/>
<rect x="159" y="409" width="1" height="23" fill="#ff0000"/>
<rect x="159" y="412" width="2" height="17" fill="#ff0000"/>
<rect x="160" y="416" width="1" height="6" fill="#008000"/>
<rect x="160" y="417" width="2" height="4" fill="#008000"/>
<rect x="163" y="403" width="1" height="20" fill="#008000"/>
<rect x="163" y="405" width="2" height="15" fill="#008000"/>
<rect x="164" y="418" width="1" height="3" fill="#ff0000"/>
<rect x="164" y="418" width="2" height="3" fill="#ff0000"/>
<rect x="166" y="393" width="1" height="11" fill="#008000"/>
<rect x="166" y="394" width="2" height="9" fill="#008000"/>
<rect x="170" y="390" width="1" height="8" fill="#008000"/>
<rect x="170" y="391" width="2" height="6" fill="#008000"/>
<rect x="172" y="388" width="1" height="10" fill="#ff0000"/>
<rect x="172" y="389" width="2" height="8" fill="#ff0000"/>
<rect x="173" y="390" width="1" height="2" fill="#ff0000"/>
<rect x="173" y="390" width="2" height="2" fill="#ff0000"/>
<rect x="174" y="382" width="1" height="10" fill="#008000"/>
<rect x="174" y="383" width="2" height="8" fill="#008000"/>
<rect x="178" y="379" width="1" height="3" fill="#008000"/>
<rect x="178" y="379" width="2" height="3" fill="#008000"/>
<rect x="178" y="382" width="1" height="4" fill="#ff0000"/>
<rect x="178" y="382" width="2" height="3" fill="#ff0000"/>
<rect x="181" y="382" width="1" height="7" fill="#ff0000"/>
<rect x="181" y="383" width="2" height="5" fill="#ff0000"/>
<rect x="182" y="379" width="1" height="13" fill="#008000"/>
<rect x="182" y="381" width="2" height="9" fill="#008000"/>
<rect x="185" y="378" width="1" height="8" fill="#008000"/>
<rect x="185" y="379" width="2" height="6" fill="#008000"/>
<rect x="186" y="384" width="1" height="5" fill="#ff0000"/>
<rect x="186" y="385" width="2" height="3" fill="#ff0000"/>
<rect x="188" y="384" width="1" height="3" fill="#ff0000"/>
<rect x="188" y="384" width="2" height="2" fill="#ff0000"/>
<rect x="189" y="384" width="1" height="9" fill="#008000"/>
<rect x="189" y="385" width="2" height="7" fill="#008000"/>
<rect x="190" y="387" width="1" height="4" fill="#ff0000"/>
<rect x="190" y="387" width="2" height="4" fill="#ff0000"/>
<rect x="192" y="388" width="1" height="5" fill="#008000"/>
<rect x="192" y="388" width="2" height="5" fill="#008000"/>
<rect x="195" y="383" width="1" height="8" fill="#008000"/>
<rect x="195" y="384" width="2" height="6" fill="#008000"/>
<rect x="198" y="387" width="1" height="3" fill="#ff0000"/>
<rect x="198" y="387" width="2" height="3" fill="#ff0000"/>
<rect x="200" y="378" width="1" height="13" fill="#008000"/>
<rect x="200" y="380" width="2" height="9" fill="#008000"/>
<rect x="203" y="372" width="1" height="8" fill="#008000"/>
<rect x="203" y="373" width="2" height="6" fill="#008000"/>
<rect x="204" y="378" width="1" height="4" fill="#ff0000"/>
<rect x="204" y="378" width="2" height="4" fill="#ff0000"/>
<rect x="206" y="378" width="1" height="4" fill="#008000"/>
<rect x="206" y="378" width="2" height="3" fill="#008000"/>
<rect x="210" y="378" width="1" height="2" fill="#ff0000"/>
<rect x="210" y="378" width="2" height="2" fill="#ff0000"/>
<rect x="211" y="379" width="1" height="5" fill="#008000"/>
<rect x="211" y="380" width="2" height="3" fill="#008000"/>
<rect x="213" y="375" width="1" height="5" fill="#008000"/>
<rect x="213" y="376" width="2" height="3" fill="#008000"/>
<rect x="215" y="374" width="1" height="6" fill="#ff0000"/>
<rect x="215" y="375" width="2" height="5" fill="#ff0000"/>
<rect x="218" y="378" width="1" height="4" fill="#008000"/>
<rect x="218" y="379" width="2" height="2" fill="#008000"/>
<rect x="222" y="356" width="1" height="24" fill="#008000"/>
<rect x="222" y="359" width="2" height="18" fill="#008000"/>
<rect x="224" y="354" width="1" height="17" fill="#ff0000"/>
<rect x="224" y="356" width="2" height="13" fill="#ff0000"/>
<rect x="228" y="367" width="1" height="5" fill="#ff0000"/>
<rect x="228" y="368" width="2" height="4" fill="#ff0000"/>
<rect x="228" y="371" width="1" height="5" fill="#008000"/>
<rect x="228" y="372" width="2" height="3" fill="#008000"/>
<rect x="232" y="369" width="1" height="4" fill="#008000"/>
<rect x="232" y="370" width="2" height="2" fill="#008000"/>
<rect x="233" y="370" width="1" height="14" fill="#ff0000"/>
<rect x="233" y="372" width="2" height="10" fill="#ff0000"/>
<rect x="236" y="378" width="1" height="7" fill="#008000"/>
<rect x="236" y="379" width="2" height="5" fill="#008000"/>
<rect x="238" y="380" width="1" height="1" fill="#ff0000"/>
<rect x="238" y="380" width="2" height="1" fill="#ff0000"/>
<rect x="240" y="378" width="1" height="3" fill="#008000"/>
<rect x="240" y="378" width="2" height="3" fill="#008000"/>
<rect x="243" y="374" width="1" height="3" fill="#008000"/>
<rect x="243" y="375" width="2" height="2" fill="#008000"/>
<rect x="244" y="377" width="1" height="4" fill="#ff0000"/>
<rect x="244" y="378" width="2" height="3" fill="#ff0000"/>
<rect x="247" y="379" width="1" height="7" fill="#ff0000"/>
<rect x="247" y="380" width="2" height="5" fill="#ff0000"/>
<rect x="250" y="379" width="1" height="5" fill="#008000"/>
<rect x="250" y="379" width="2" height="5" fill="#008000"/>
<rect x="251" y="370" width="1" height="7" fill="#008000"/>
<rect x="251" y="371" width="2" height="5" fill="#008000"/>
<rect x="254" y="364" width="1" height="11" fill="#008000"/>
<rect x="254" y="366" width="2" height="7" fill="#008000"/>
<rect x="256" y="366" width="1" height="9" fill="#ff0000"/>
<rect x="256" y="367" width="2" height="7" fill="#ff0000"/>
<rect x="258" y="363" width="1" height="12" fill="#ff0000"/>
<rect x="258" y="365" width="2" height="8" fill="#ff0000"/>
<rect x="258" y="377" width="1" height="8" fill="#ff0000"/>
<rect x="258" y="378" width="2" height="6" fill="#ff0000"/>
<rect x="261" y="380" width="1" height="23" fill="#008000"/>
<rect x="261" y="382" width="2" height="18" fill="#008000"/>
<rect x="262" y="382" width="1" height="8" fill="#ff0000"/>
<rect x="262" y="383" width="2" height="6" fill="#ff0000"/>
<rect x="264" y="380" width="1" height="10" fill="#008000"/>
<rect x="264" y="381" width="2" height="7" fill="#008000"/>
<rect x="268" y="364" width="1" height="20" fill="#008000"/>
<rect x="268" y="366" width="2" height="15" fill="#008000"/>
<rect x="272" y="356" width="1" height="12" fill="#008000"/>
<rect x="272" y="357" width="2" height="9" fill="#008000"/>
<rect x="273" y="346" width="1" height="17" fill="#ff0000"/>
<rect x="273" y="348" width="2" height="13" fill="#ff0000"/>
<rect x="276" y="347" width="1" height="8" fill="#008000"/>
<rect x="276" y="348" width="2" height="6" fill="#008000"/>
<rect x="276" y="341" width="1" height="7" fill="#008000"/>
<rect x="276" y="342" width="2" height="5" fill="#008000"/>
<rect x="279" y="333" width="1" height="15" fill="#008000"/>
<rect x="279" y="335" width="2" height="11" fill="#008000"/>
<rect x="280" y="324" width="1" height="14" fill="#ff0000"/>
<rect x="280" y="326" width="2" height="10" fill="#ff0000"/>
<rect x="280" y="323" width="1" height="8" fill="#008000"/>
<rect x="280" y="324" width="2" height="6" fill="#008000"/>
<rect x="283" y="330" width="1" height="8" fill="#008000"/>
<rect x="283" y="331" width="2" height="6" fill="#008000"/>
<rect x="283" y="323" width="1" height="6" fill="#008000"/>
<rect x="283" y="324" width="2" height="4" fill="#008000"/>
<rect x="284" y="329" width="1" height="4" fill="#ff0000"/>
<rect x="284" y="329" width="2" height="4" fill="#ff0000"/>
<rect x="287" y="326" width="1" height="5" fill="#008000"/>
<rect x="287" y="327" width="2" height="3" fill="#008000"/>
<rect x="290" y="327" width="1" height="10" fill="#ff0000"/>
<rect x="290" y="329" width="2" height="7" fill="#ff0000"/>
<rect x="294" y="326" width="1" height="8" fill="#008000"/>
<rect x="294" y="327" width="2" height="6" fill="#008000"/>
<rect x="298" y="324" width="1" height="7" fill="#008000"/>
<rect x="298" y="325" width="2" height="5" fill="#008000"/>
<rect x="302" y="316" width="1" height="17" fill="#008000"/>
<rect x="302" y="318" width="2" height="13" fill="#008000"/>
<rect x="305" y="320" width="1" height="12" fill="#ff0000"/>
<rect x="305" y="321" width="2" height="9" fill="#ff0000"/>
<rect x="308" y="324" width="1" height="9" fill="#008000"/>
<rect x="308" y="325" width="2" height="7" fill="#008000"/>
<rect x="309" y="330" width="1" height="3" fill="#ff0000"/>
<rect x="309" y="330" width="2" height="2" fill="#ff0000"/>
<rect x="312" y="330" width="1" height="15" fill="#008000"/>
<rect x="312" y="332" width="2" height="11" fill="#008000"/>
<rect x="316" y="335" width="1" height="9" fill="#ff0000"/>
<rect x="316" y="336" width="2" height="7" fill="#ff0000"/>
<rect x="319" y="327" width="1" height="16" fill="#008000"/>
<rect x="319" y="329" width="2" height="12" fill="#008000"/>
<rect x="324" y="310" width="1" height="21" fill="#008000"/>
<rect x="324" y="312" width="2" height="16" fill="#008000"/>
<rect x="324" y="327" width="1" height="4" fill="#ff0000"/>
<rect x="324" y="327" width="2" height="3" fill="#ff0000"/>
<rect x="327" y="331" width="1" height="12" fill="#ff0000"/>
<rect x="327" y="333" width="2" height="8" fill="#ff0000"/>
<rect x="330" y="336" width="1" height="6" fill="#008000"/>
<rect x="330" y="336" width="2" height="5" fill="#008000"/>
<rect x="334" y="339" width="1" height="13" fill="#ff0000"/>
<rect x="334" y="341" width="2" height="9" fill="#ff0000"/>
<rect x="337" y="342" width="1" height="17" fill="#008000"/>
<rect x="337" y="344" width="2" height="13" fill="#008000"/>
<rect x="341" y="344" width="1" height="6" fill="#008000"/>
<rect x="341" y="344" width="2" height="5" fill="#008000"/>
<rect x="342" y="344" width="1" height="6" fill="#ff0000"/>
<rect x="342" y="345" width="2" height="4" fill="#ff0000"/>
<rect x="345" y="344" width="1" height="6" fill="#ff0000"/>
<rect x="345" y="344" width="2" height="5" fill="#ff0000"/>
<rect x="345" y="344" width="1" height="5" fill="#008000"/>
<rect x="345" y="345" width="2" height="3" fill="#008000"/>
<rect x="349" y="350" width="1" height="17" fill="#ff0000"/>
<rect x="349" y="352" width="2" height="13" fill="#ff0000"/>
<rect x="353" y="353" width="1" height="12" fill="#008000"/>
<rect x="353" y="355" width="2" height="9" fill="#008000"/>
<rect x="356" y="355" width="1" height="7" fill="#008000"/>
<rect x="356" y="356" width="2" height="5" fill="#008000"/>
<rect x="356" y="358" width="1" height="4" fill="#ff0000"/>
<rect x="356" y="359" width="2" height="3" fill="#ff0000"/>
<rect x="360" y="352" width="1" height="10" fill="#008000"/>
<rect x="360" y="353" width="2" height="8" fill="#008000"/>
<rect x="361" y="354" width="1" height="8" fill="#ff0000"/>
<rect x="361" y="355" width="2" height="6" fill="#ff0000"/>
<rect x="362" y="354" width="1" height="8" fill="#ff0000"/>
<rect x="362" y="355" width="2" height="6" fill="#ff0000"/>
<rect x="364" y="364" width="1" height="8" fill="#ff0000"/>
<rect x="364" y="365" width="2" height="6" fill="#ff0000"/>
<rect x="367" y="366" width="1" height="7" fill="#008000"/>
<rect x="367" y="367" width="2" height="5" fill="#008000"/>
<rect x="367" y="373" width="1" height="15" fill="#ff0000"/>
<rect x="367" y="374" width="2" height="12" fill="#ff0000"/>
<rect x="370" y="383" width="1" height="28" fill="#ff0000"/>
<rect x="370" y="387" width="2" height="21" fill="#ff0000"/>
<rect x="374" y="394" width="1" height="14" fill="#008000"/>
<rect x="374" y="396" width="2" height="10" fill="#008000"/>
<rect x="374" y="402" width="1" height="5" fill="#ff0000"/>
<rect x="374" y="402" width="2" height="5" fill="#ff0000"/>
<rect x="377" y="391" width="1" height="24" fill="#ff0000"/>
<rect x="377" y="394" width="2" height="18" fill="#ff0000"/>
<rect x="378" y="392" width="1" height="7" fill="#008000"/>
<rect x="378" y="392" width="2" height="6" fill="#008000"/>
<rect x="381" y="401" width="1" height="17" fill="#008000"/>
<rect x="381" y="403" width="2" height="12" fill="#008000"/>
<rect x="382" y="405" width="1" height="13" fill="#ff0000"/>
<rect x="382" y="406" width="2" height="10" fill="#ff0000"/>
<rect x="385" y="414" width="1" height="5" fill="#008000"/>
<rect x="385" y="415" width="2" height="4" fill="#008000"/>
<rect x="385" y="419" width="1" height="5" fill="#ff0000"/>
<rect x="385" y="420" width="2" height="4" fill="#ff0000"/>
<rect x="389" y="429" width="1" height="39" fill="#ff0000"/>
<rect x="389" y="433" width="2" height="30" fill="#ff0000"/>
<rect x="392" y="459" width="1" height="31" fill="#008000"/>
<rect x="392" y="463" width="2" height="24" fill="#008000"/>
<rect x="392" y="458" width="1" height="7" fill="#ff0000"/>
<rect x="392" y="459" width="2" height="5" fill="#ff0000"/>
<rect x="393" y="426" width="1" height="13" fill="#008000"/>
<rect x="393" y="428" width="2" height="9" fill="#008000"/>
<rect x="396" y="420" width="1" height="20" fill="#008000"/>
<rect x="396" y="423" width="2" height="15" fill="#008000"/>
<rect x="399" y="434" width="1" height="24" fill="#ff0000"/>
<rect x="399" y="437" width="2" height="18" fill="#ff0000"/>
<rect x="399" y="436" width="1" height="33" fill="#008000"/>
<rect x="399" y="440" width="2" height="25" fill="#008000"/>
<rect x="403" y="446" width="1" height="5" fill="#008000"/>
<rect x="403" y="447" width="2" height="4" fill="#008000"/>
<rect x="404" y="446" width="1" height="25" fill="#ff0000"/>
<rect x="404" y="449" width="2" height="19" fill="#ff0000"/>
<rect x="407" y="442" width="1" height="11" fill="#008000"/>
<rect x="407" y="443" width="2" height="8" fill="#008000"/>
<rect x="410" y="446" width="1" height="16" fill="#ff0000"/>
<rect x="410" y="448" width="2" height="12" fill="#ff0000"/>
<rect x="414" y="449" width="1" height="9" fill="#008000"/>
<rect x="414" y="450" width="2" height="7" fill="#008000"/>
<rect x="417" y="424" width="1" height="31" fill="#008000"/>
<rect x="417" y="428" width="2" height="24" fill="#008000"/>
<rect x="420" y="418" width="1" height="4" fill="#ff0000"/>
<rect x="420" y="418" width="2" height="3" fill="#ff0000"/>
<rect x="422" y="400" width="1" height="22" fill="#008000"/>
<rect x="422" y="403" width="2" height="16" fill="#008000"/>
<rect x="425" y="407" width="1" height="11" fill="#ff0000"/>
<rect x="425" y="408" width="2" height="9" fill="#ff0000"/>
<rect x="425" y="420" width="1" height="11" fill="#ff0000"/>
<rect x="425" y="421" width="2" height="9" fill="#ff0000"/>
<rect x="428" y="424" width="1" height="8" fill="#008000"/>
<rect x="428" y="425" width="2" height="6" fill="#008000"/>
<rect x="429" y="421" width="1" height="14" fill="#ff0000"/>
<rect x="429" y="423" width="2" height="10" fill="#ff0000"/>
<rect x="432" y="423" width="1" height="13" fill="#008000"/>
<rect x="432" y="425" width="2" height="10" fill="#008000"/>
<rect x="436" y="423" width="1" height="8" fill="#ff0000"/>
<rect x="436" y="424" width="2" height="6" fill="#ff0000"/>
<rect x="439" y="427" width="1" height="8" fill="#008000"/>
<rect x="439" y="428" width="2" height="6" fill="#008000"/>
<rect x="444" y="427" width="1" height="10" fill="#ff0000"/>
<rect x="444" y="428" width="2" height="8" fill="#ff0000"/>
<rect x="447" y="429" width="1" height="7" fill="#008000"/>
<rect x="447" y="430" width="2" height="5" fill="#008000"/>
<rect x="450" y="425" width="1" height="8" fill="#008000"/>
<rect x="450" y="426" width="2" height="6" fill="#008000"/>
<rect x="454" y="419" width="1" height="16" fill="#008000"/>
<rect x="454" y="421" width="2" height="12" fill="#008000"/>
<rect x="457" y="420" width="1" height="9" fill="#ff0000"/>
<rect x="457" y="421" width="2" height="7" fill="#ff0000"/>
<rect x="462" y="420" width="1" height="14" fill="#008000"/>
<rect x="462" y="422" width="2" height="10" fill="#008000"/>
<rect x="465" y="424" width="1" height="4" fill="#ff0000"/>
<rect x="465" y="424" width="2" height="4" fill="#ff0000"/>
<rect x="469" y="420" width="1" height="6" fill="#008000"/>
<rect x="469" y="421" width="2" height="4" fill="#008000"/>
<rect x="472" y="404" width="1" height="19" fill="#008000"/>
<rect x="472" y="406" width="2" height="15" fill="#008000"/>
<rect x="473" y="408" width="1" height="2" fill="#ff0000"/>
<rect x="473" y="408" width="2" height="2" fill="#ff0000"/>
<rect x="475" y="400" width="1" height="10" fill="#ff0000"/>
<rect x="475" y="401" width="2" height="8" fill="#ff0000"/>
<rect x="479" y="397" width="1" height="9" fill="#008000"/>
<rect x="479" y="398" width="2" height="7" fill="#008000"/>
<rect x="480" y="393" width="1" height="4" fill="#008000"/>
<rect x="480" y="394" width="2" height="3" fill="#008000"/>
<rect x="483" y="395" width="1" height="7" fill="#008000"/>
<rect x="483" y="396" width="2" height="5" fill="#008000"/>
<rect x="486" y="389" width="1" height="9" fill="#008000"/>
<rect x="486" y="390" width="2" height="7" fill="#008000"/>
<rect x="487" y="396" width="1" height="2" fill="#ff0000"/>
<rect x="487" y="396" width="2" height="2" fill="#ff0000"/>
<rect x="490" y="390" width="1" height="13" fill="#008000"/>
<rect x="490" y="392" width="2" height="9" fill="#008000"/>
<rect x="491" y="388" width="1" height="9" fill="#ff0000"/>
<rect x="491" y="389" width="2" height="7" fill="#ff0000"/>
<rect x="494" y="392" width="1" height="4" fill="#008000"/>
<rect x="494" y="393" width="2" height="2" fill="#008000"/>
<rect x="497" y="392" width="1" height="28" fill="#ff0000"/>
<rect x="497" y="395" width="2" height="21" fill="#ff0000"/>
<rect x="498" y="405" width="1" height="12" fill="#008000"/>
<rect x="498" y="406" width="2" height="9" fill="#008000"/>
<rect x="501" y="407" width="1" height="21" fill="#008000"/>
<rect x="501" y="410" width="2" height="16" fill="#008000"/>
<rect x="502" y="402" width="1" height="14" fill="#ff0000"/>
<rect x="502" y="403" width="2" height="11" fill="#ff0000"/>
<rect x="505" y="407" width="1" height="11" fill="#008000"/>
<rect x="505" y="408" width="2" height="8" fill="#008000"/>
<rect x="508" y="400" width="1" height="15" fill="#008000"/>
<rect x="508" y="402" width="2" height="11" fill="#008000"/>
<rect x="509" y="408" width="1" height="6" fill="#ff0000"/>
<rect x="509" y="409" width="2" height="4" fill="#ff0000"/>
<rect x="512" y="405" width="1" height="21" fill="#ff0000"/>
<rect x="512" y="408" width="2" height="16" fill="#ff0000"/>
<rect x="513" y="413" width="1" height="17" fill="#ff0000"/>
<rect x="513" y="415" width="2" height="13" fill="#ff0000"/>
<rect x="516" y="422" width="1" height="12" fill="#ff0000"/>
<rect x="516" y="424" width="2" height="9" fill="#ff0000"/>
<rect x="519" y="428" width="1" height="14" fill="#008000"/>
<rect x="519" y="430" width="2" height="10" fill="#008000"/>
<rect x="520" y="438" width="1" height="4" fill="#ff0000"/>
<rect x="520" y="438" width="2" height="3" fill="#ff0000"/>
<rect x="523" y="427" width="1" height="7" fill="#ff0000"/>
<rect x="523" y="428" width="2" height="5" fill="#ff0000"/>
<rect x="523" y="434" width="1" height="7" fill="#008000"/>
<rect x="523" y="435" width="2" height="5" fill="#008000"/>
<rect x="526" y="416" width="1" height="14" fill="#008000"/>
<rect x="526" y="418" width="2" height="10" fill="#008000"/>
<rect x="527" y="416" width="1" height="11" fill="#ff0000"/>
<rect x="527" y="417" width="2" height="9" fill="#ff0000"/>
<rect x="530" y="423" width="1" height="5" fill="#ff0000"/>
<rect x="530" y="424" width="2" height="4" fill="#ff0000"/>
<rect x="531" y="414" width="1" height="20" fill="#008000"/>
<rect x="531" y="417" width="2" height="14" fill="#008000"/>
<rect x="534" y="420" width="1" height="8" fill="#ff0000"/>
<rect x="534" y="421" width="2" height="6" fill="#ff0000"/>
<rect x="534" y="426" width="1" height="4" fill="#008000"/>
<rect x="534" y="426" width="2" height="3" fill="#008000"/>
<rect x="536" y="426" width="1" height="4" fill="#ff0000"/>
<rect x="536" y="426" width="2" height="3" fill="#ff0000"/>
<rect x="538" y="424" width="1" height="8" fill="#008000"/>
<rect x="538" y="425" width="2" height="6" fill="#008000"/>
<rect x="542" y="406" width="1" height="21" fill="#008000"/>
<rect x="542" y="409" width="2" height="16" fill="#008000"/>
<rect x="545" y="411" width="1" height="21" fill="#ff0000"/>
<rect x="545" y="414" width="2" height="15" fill="#ff0000"/>
<rect x="548" y="424" width="1" height="11" fill="#ff0000"/>
<rect x="548" y="425" width="2" height="9" fill="#ff0000"/>
<rect x="548" y="436" width="1" height="7" fill="#008000"/>
<rect x="548" y="437" width="2" height="5" fill="#008000"/>
<rect x="552" y="436" width="1" height="14" fill="#ff0000"/>
<rect x="552" y="438" width="2" height="10" fill="#ff0000"/>
<rect x="553" y="436" width="1" height="14" fill="#ff0000"/>
<rect x="553" y="438" width="2" height="10" fill="#ff0000"/>
<rect x="292" y="329" width="1" height="5" fill="#008000"/>
<rect x="292" y="330" width="2" height="3" fill="#008000"/>
<rect x="322" y="323" width="1" height="11" fill="#ff0000"/>
<rect x="322" y="324" width="2" height="9" fill="#ff0000"/>
<rect x="441" y="428" width="1" height="5" fill="#008000"/>
<rect x="441" y="429" width="2" height="3" fill="#008000"/>
<rect x="460" y="423" width="1" height="4" fill="#008000"/>
<rect x="460" y="423" width="2" height="3" fill="#008000"/>
<rect x="550" y="439" width="1" height="4" fill="#ff0000"/>
<rect x="550" y="439" width="2" height="3" fill="#ff0000"/>
</g>
<g clip-path="url(#c4)">
<rect x="0" y="679" width="1" height="6" fill="#008000"/>
<rect x="1" y="677" width="2" height="8" fill="#008000"/>
<rect x="3" y="674" width="3" height="11" fill="#008000"/>
<rect x="6" y="677" width="2" height="8" fill="#008000"/>
<rect x="8" y="676" width="2" height="9" fill="#008000"/>
<rect x="10" y="675" width="2" height="10" fill="#008000"/>
<rect x="12" y="677" width="2" height="8" fill="#008000"/>
<rect x="14" y="675" width="3" height="10" fill="#008000"/>
<rect x="17" y="676" width="4" height="9" fill="#008000"/>
<rect x="21" y="672" width="2" height="13" fill="#008000"/>
<rect x="23" y="676" width="2" height="9" fill="#008000"/>
<rect x="25" y="670" width="2" height="15" fill="#008000"/>
<rect x="27" y="676" width="4" height="9" fill="#008000"/>
<rect x="31" y="678" width="3" height="7" fill="#008000"/>
<rect x="34" y="679" width="2" height="6" fill="#008000"/>
<rect x="36" y="678" width="3" height="7" fill="#008000"/>
<rect x="39" y="680" width="2" height="5" fill="#008000"/>
<rect x="41" y="679" width="3" height="6" fill="#008000"/>
<rect x="44" y="678" width="3" height="7" fill="#008000"/>
<rect x="47" y="679" width="2" height="6" fill="#008000"/>
<rect x="49" y="680" width="4" height="5" fill="#008000"/>
<rect x="53" y="675" width="3" height="10" fill="#008000"/>
<rect x="56" y="677" width="1" height="8" fill="#008000"/>
<rect x="57" y="671" width="2" height="14" fill="#008000"/>
<rect x="59" y="679" width="2" height="6" fill="#008000"/>
<rect x="61" y="660" width="2" height="25" fill="#008000"/>
<rect x="63" y="671" width="2" height="14" fill="#008000"/>
<rect x="65" y="677" width="5" height="8" fill="#008000"/>
<rect x="70" y="675" width="2" height="10" fill="#008000"/>
<rect x="72" y="679" width="2" height="6" fill="#008000"/>
<rect x="74" y="676" width="2" height="9" fill="#008000"/>
<rect x="76" y="679" width="2" height="6" fill="#008000"/>
<rect x="78" y="677" width="2" height="8" fill="#008000"/>
<rect x="80" y="677" width="1" height="8" fill="#008000"/>
<rect x="81" y="679" width="2" height="6" fill="#008000"/>
<rect x="83" y="676" width="2" height="9" fill="#008000"/>
<rect x="85" y="673" width="2" height="12" fill="#008000"/>
<rect x="87" y="676" width="1" height="9" fill="#008000"/>
<rect x="88" y="652" width="2" height="33" fill="#008000"/>
<rect x="90" y="675" width="2" height="10" fill="#008000"/>
<rect x="92" y="670" width="1" height="15" fill="#008000"/>
<rect x="93" y="667" width="2" height="18" fill="#008000"/>
<rect x="95" y="678" width="1" height="7" fill="#008000"/>
<rect x="96" y="666" width="2" height="19" fill="#008000"/>
<rect x="98" y="667" width="1" height="18" fill="#008000"/>
<rect x="99" y="669" width="2" height="16" fill="#008000"/>
<rect x="101" y="674" width="4" height="11" fill="#008000"/>
<rect x="105" y="657" width="2" height="28" fill="#008000"/>
<rect x="107" y="665" width="2" height="20" fill="#008000"/>
<rect x="109" y="671" width="3" height="14" fill="#008000"/>
<rect x="112" y="661" width="2" height="24" fill="#008000"/>
<rect x="114" y="659" width="2" height="26" fill="#008000"/>
<rect x="116" y="667" width="1" height="18" fill="#008000"/>
<rect x="117" y="652" width="2" height="33" fill="#008000"/>
<rect x="119" y="651" width="1" height="34" fill="#008000"/>
<rect x="120" y="667" width="3" height="18" fill="#008000"/>
<rect x="123" y="668" width="2" height="17" fill="#008000"/>
<rect x="125" y="667" width="5" height="18" fill="#008000"/>
<rect x="130" y="670" width="2" height="15" fill="#008000"/>
<rect x="132" y="661" width="2" height="24" fill="#008000"/>
<rect x="134" y="668" width="2" height="17" fill="#008000"/>
<rect x="136" y="675" width="1" height="10" fill="#008000"/>
<rect x="137" y="676" width="3" height="9" fill="#008000"/>
<rect x="140" y="667" width="1" height="18" fill="#008000"/>
<rect x="141" y="658" width="2" height="27" fill="#008000"/>
<rect x="143" y="668" width="2" height="17" fill="#008000"/>
<rect x="145" y="671" width="2" height="14" fill="#008000"/>
<rect x="147" y="673" width="2" height="12" fill="#008000"/>
<rect x="149" y="678" width="2" height="7" fill="#008000"/>
<rect x="151" y="673" width="1" height="12" fill="#008000"/>
<rect x="152" y="678" width="2" height="7" fill="#008000"/>
<rect x="154" y="668" width="2" height="17" fill="#008000"/>
<rect x="156" y="661" width="2" height="24" fill="#008000"/>
<rect x="158" y="659" width="2" height="26" fill="#008000"/>
<rect x="160" y="668" width="1" height="17" fill="#008000"/>
<rect x="161" y="678" width="2" height="7" fill="#008000"/>
<rect x="163" y="671" width="2" height="14" fill="#008000"/>
<rect x="165" y="669" width="2" height="16" fill="#008000"/>
<rect x="167" y="674" width="3" height="11" fill="#008000"/>
<rect x="170" y="677" width="2" height="8" fill="#008000"/>
<rect x="172" y="675" width="2" height="10" fill="#008000"/>
<rect x="174" y="670" width="2" height="15" fill="#008000"/>
<rect x="176" y="677" width="3" height="8" fill="#008000"/>
<rect x="179" y="678" width="4" height="7" fill="#008000"/>
<rect x="183" y="674" width="2" height="11" fill="#008000"/>
<rect x="185" y="673" width="2" height="12" fill="#008000"/>
<rect x="187" y="665" width="2" height="20" fill="#008000"/>
<rect x="189" y="675" width="3" height="10" fill="#008000"/>
<rect x="192" y="676" width="2" height="9" fill="#008000"/>
<rect x="194" y="674" width="2" height="11" fill="#008000"/>
<rect x="196" y="678" width="3" height="7" fill="#008000"/>
<rect x="199" y="671" width="2" height="14" fill="#008000"/>
<rect x="201" y="672" width="2" height="13" fill="#008000"/>
<rect x="203" y="677" width="3" height="8" fill="#008000"/>
<rect x="206" y="674" width="2" height="11" fill="#008000"/>
<rect x="208" y="678" width="3" height="7" fill="#008000"/>
<rect x="211" y="673" width="3" height="12" fill="#008000"/>
<rect x="214" y="678" width="2" height="7" fill="#008000"/>
<rect x="216" y="679" width="3" height="6" fill="#008000"/>
<rect x="219" y="678" width="2" height="7" fill="#008000"/>
<rect x="221" y="660" width="2" height="25" fill="#008000"/>
<rect x="223" y="677" width="1" height="8" fill="#008000"/>
<rect x="224" y="671" width="2" height="14" fill="#008000"/>
<rect x="226" y="677" width="5" height="8" fill="#008000"/>
<rect x="231" y="678" width="1" height="7" fill="#008000"/>
<rect x="232" y="670" width="2" height="15" fill="#008000"/>
<rect x="234" y="676" width="2" height="9" fill="#008000"/>
<rect x="236" y="678" width="4" height="7" fill="#008000"/>
<rect x="240" y="678" width="2" height="7" fill="#008000"/>
<rect x="242" y="679" width="1" height="6" fill="#008000"/>
<rect x="243" y="678" width="4" height="7" fill="#008000"/>
<rect x="247" y="679" width="2" height="6" fill="#008000"/>
<rect x="249" y="678" width="3" height="7" fill="#008000"/>
<rect x="252" y="672" width="2" height="13" fill="#008000"/>
<rect x="254" y="677" width="2" height="8" fill="#008000"/>
<rect x="256" y="673" width="1" height="12" fill="#008000"/>
<rect x="257" y="669" width="2" height="16" fill="#008000"/>
<rect x="259" y="675" width="1" height="10" fill="#008000"/>
<rect x="260" y="666" width="1" height="19" fill="#008000"/>
<rect x="261" y="664" width="2" height="21" fill="#008000"/>
<rect x="263" y="676" width="3" height="9" fill="#008000"/>
<rect x="266" y="679" width="1" height="6" fill="#008000"/>
<rect x="267" y="674" width="1" height="11" fill="#008000"/>
<rect x="268" y="661" width="2" height="24" fill="#008000"/>
<rect x="270" y="675" width="1" height="10" fill="#008000"/>
<rect x="271" y="656" width="2" height="29" fill="#008000"/>
<rect x="273" y="668" width="1" height="17" fill="#008000"/>
<rect x="274" y="672" width="2" height="13" fill="#008000"/>
<rect x="276" y="673" width="5" height="12" fill="#008000"/>
<rect x="281" y="676" width="2" height="9" fill="#008000"/>
<rect x="283" y="672" width="2" height="13" fill="#008000"/>
<rect x="285" y="674" width="3" height="11" fill="#008000"/>
<rect x="288" y="670" width="2" height="15" fill="#008000"/>
<rect x="290" y="673" width="2" height="12" fill="#008000"/>
<rect x="292" y="674" width="2" height="11" fill="#008000"/>
<rect x="294" y="678" width="3" height="7" fill="#008000"/>
<rect x="297" y="677" width="4" height="8" fill="#008000"/>
<rect x="301" y="676" width="2" height="9" fill="#008000"/>
<rect x="303" y="674" width="3" height="11" fill="#008000"/>
<rect x="306" y="676" width="4" height="9" fill="#008000"/>
<rect x="310" y="679" width="1" height="6" fill="#008000"/>
<rect x="311" y="678" width="9" height="7" fill="#008000"/>
<rect x="320" y="677" width="1" height="8" fill="#008000"/>
<rect x="321" y="678" width="2" height="7" fill="#008000"/>
<rect x="323" y="667" width="2" height="18" fill="#008000"/>
<rect x="325" y="675" width="1" height="10" fill="#008000"/>
<rect x="326" y="654" width="2" height="31" fill="#008000"/>
<rect x="328" y="671" width="2" height="14" fill="#008000"/>
<rect x="330" y="673" width="3" height="12" fill="#008000"/>
<rect x="333" y="666" width="2" height="19" fill="#008000"/>
<rect x="335" y="671" width="2" height="14" fill="#008000"/>
<rect x="337" y="677" width="4" height="8" fill="#008000"/>
<rect x="341" y="679" width="2" height="6" fill="#008000"/>
<rect x="343" y="676" width="4" height="9" fill="#008000"/>
<rect x="347" y="666" width="2" height="19" fill="#008000"/>
<rect x="349" y="669" width="1" height="16" fill="#008000"/>
<rect x="350" y="675" width="4" height="10" fill="#008000"/>
<rect x="354" y="677" width="2" height="8" fill="#008000"/>
<rect x="356" y="675" width="2" height="10" fill="#008000"/>
<rect x="358" y="669" width="1" height="16" fill="#008000"/>
<rect x="359" y="673" width="2" height="12" fill="#008000"/>
<rect x="361" y="669" width="4" height="16" fill="#008000"/>
<rect x="365" y="673" width="1" height="12" fill="#008000"/>
<rect x="366" y="645" width="2" height="40" fill="#008000"/>
<rect x="368" y="668" width="2" height="17" fill="#008000"/>
<rect x="370" y="641" width="2" height="44" fill="#008000"/>
<rect x="372" y="665" width="1" height="20" fill="#008000"/>
<rect x="373" y="669" width="3" height="16" fill="#008000"/>
<rect x="376" y="670" width="1" height="15" fill="#008000"/>
<rect x="377" y="661" width="2" height="24" fill="#008000"/>
<rect x="379" y="668" width="4" height="17" fill="#008000"/>
<rect x="383" y="665" width="2" height="20" fill="#008000"/>
<rect x="385" y="674" width="1" height="11" fill="#008000"/>
<rect x="386" y="657" width="1" height="28" fill="#008000"/>
<rect x="387" y="632" width="2" height="53" fill="#008000"/>
<rect x="389" y="644" width="2" height="41" fill="#008000"/>
<rect x="391" y="644" width="1" height="41" fill="#008000"/>
<rect x="392" y="638" width="2" height="47" fill="#008000"/>
<rect x="394" y="662" width="3" height="23" fill="#008000"/>
<rect x="397" y="641" width="2" height="44" fill="#008000"/>
<rect x="399" y="660" width="1" height="25" fill="#008000"/>
<rect x="400" y="666" width="1" height="19" fill="#008000"/>
<rect x="401" y="674" width="1" height="11" fill="#008000"/>
<rect x="402" y="663" width="2" height="22" fill="#008000"/>
<rect x="404" y="671" width="1" height="14" fill="#008000"/>
<rect x="405" y="666" width="2" height="19" fill="#008000"/>
<rect x="407" y="671" width="1" height="14" fill="#008000"/>
<rect x="408" y="675" width="2" height="10" fill="#008000"/>
<rect x="410" y="667" width="2" height="18" fill="#008000"/>
<rect x="412" y="671" width="2" height="14" fill="#008000"/>
<rect x="414" y="675" width="1" height="10" fill="#008000"/>
<rect x="415" y="654" width="2" height="31" fill="#008000"/>
<rect x="417" y="666" width="2" height="19" fill="#008000"/>
<rect x="419" y="655" width="3" height="30" fill="#008000"/>
<rect x="422" y="665" width="2" height="20" fill="#008000"/>
<rect x="424" y="660" width="2" height="25" fill="#008000"/>
<rect x="426" y="666" width="4" height="19" fill="#008000"/>
<rect x="430" y="674" width="2" height="11" fill="#008000"/>
<rect x="432" y="671" width="2" height="14" fill="#008000"/>
<rect x="434" y="675" width="2" height="10" fill="#008000"/>
<rect x="436" y="675" width="3" height="10" fill="#008000"/>
<rect x="439" y="676" width="2" height="9" fill="#008000"/>
<rect x="441" y="677" width="3" height="8" fill="#008000"/>
<rect x="444" y="671" width="1" height="14" fill="#008000"/>
<rect x="445" y="675" width="3" height="10" fill="#008000"/>
<rect x="448" y="671" width="3" height="14" fill="#008000"/>
<rect x="451" y="665" width="2" height="20" fill="#008000"/>
<rect x="453" y="673" width="2" height="12" fill="#008000"/>
<rect x="455" y="669" width="2" height="16" fill="#008000"/>
<rect x="457" y="673" width="4" height="12" fill="#008000"/>
<rect x="461" y="670" width="2" height="15" fill="#008000"/>
<rect x="463" y="673" width="2" height="12" fill="#008000"/>
<rect x="465" y="668" width="2" height="17" fill="#008000"/>
<rect x="467" y="672" width="2" height="13" fill="#008000"/>
<rect x="469" y="675" width="2" height="10" fill="#008000"/>
<rect x="471" y="653" width="1" height="32" fill="#008000"/>
<rect x="472" y="669" width="2" height="16" fill="#008000"/>
<rect x="474" y="655" width="2" height="30" fill="#008000"/>
<rect x="476" y="665" width="2" height="20" fill="#008000"/>
<rect x="478" y="658" width="2" height="27" fill="#008000"/>
<rect x="480" y="670" width="2" height="15" fill="#008000"/>
<rect x="482" y="671" width="2" height="14" fill="#008000"/>
<rect x="484" y="664" width="2" height="21" fill="#008000"/>
<rect x="486" y="666" width="2" height="19" fill="#008000"/>
<rect x="488" y="668" width="4" height="17" fill="#008000"/>
<rect x="492" y="672" width="1" height="13" fill="#008000"/>
<rect x="493" y="666" width="2" height="19" fill="#008000"/>
<rect x="495" y="646" width="2" height="39" fill="#008000"/>
<rect x="497" y="665" width="2" height="20" fill="#008000"/>
<rect x="499" y="658" width="2" height="27" fill="#008000"/>
<rect x="501" y="657" width="2" height="28" fill="#008000"/>
<rect x="503" y="656" width="2" height="29" fill="#008000"/>
<rect x="505" y="662" width="2" height="23" fill="#008000"/>
<rect x="507" y="658" width="3" height="27" fill="#008000"/>
<rect x="510" y="632" width="2" height="53" fill="#008000"/>
<rect x="512" y="639" width="2" height="46" fill="#008000"/>
<rect x="514" y="658" width="3" height="27" fill="#008000"/>
<rect x="517" y="636" width="2" height="49" fill="#008000"/>
<rect x="519" y="658" width="2" height="27" fill="#008000"/>
<rect x="521" y="668" width="3" height="17" fill="#008000"/>
<rect x="524" y="637" width="2" height="48" fill="#008000"/>
<rect x="526" y="658" width="2" height="27" fill="#008000"/>
<rect x="528" y="661" width="2" height="24" fill="#008000"/>
<rect x="530" y="658" width="2" height="27" fill="#008000"/>
<rect x="532" y="659" width="2" height="26" fill="#008000"/>
<rect x="534" y="670" width="2" height="15" fill="#008000"/>
<rect x="536" y="666" width="3" height="19" fill="#008000"/>
<rect x="539" y="650" width="2" height="35" fill="#008000"/>
<rect x="541" y="636" width="2" height="49" fill="#008000"/>
<rect x="543" y="665" width="1" height="20" fill="#008000"/>
<rect x="544" y="628" width="2" height="57" fill="#008000"/>
<rect x="546" y="645" width="1" height="40" fill="#008000"/>
<rect x="547" y="640" width="2" height="45" fill="#008000"/>
<rect x="549" y="665" width="3" height="20" fill="#008000"/>
<rect x="552" y="659" width="2" height="26" fill="#008000"/>
<polyline points="0.0,679.5 3.9,678.2 7.8,677.5 12.9,676.5 25.9,675.6 31.0,675.2 37.5,676.2 47.9,676.9 53.1,678.6 62.1,678.6 64.7,676.9 69.9,675.6 80.0,675.4 87.8,675.0 95.5,674.3 103.3,673.0 108.5,671.1 113.7,669.1 118.8,667.8 121.4,665.9 130.5,664.9 134.4,665.2 140.8,665.9 144.7,667.2 149.9,669.8 154.4,670.8 160.0,670.4 169.1,670.8 171.0,672.6 182.0,673.0 184.6,674.3 191.1,675.0 193.7,675.6 211.8,675.0 215.7,676.5 222.1,676.2 229.9,675.6 235.1,675.6 240.0,676.7 249.1,676.9 251.7,677.8 258.1,677.5 260.7,676.2 268.5,675.6 272.4,673.9 276.2,671.7 280.1,670.8 284.0,671.1 287.9,672.1 291.8,671.7 295.7,672.1 299.5,674.7 304.7,675.6 311.2,676.0 320.0,676.7 325.2,676.0 327.8,674.7 334.2,674.0 345.9,673.4 349.8,672.7 353.7,673.4 356.2,674.7 364.0,674.7 367.9,673.4 371.8,670.8 375.0,668.8 380.8,668.2 386.0,667.5 388.6,663.7 391.2,662.1 395.1,661.3 400.0,660.7 403.9,660.4 410.4,661.1 414.2,661.7 418.1,664.3 423.3,666.0 429.8,666.9 438.8,667.8 444.0,670.1 449.2,672.7 454.4,673.8 460.8,673.8 464.7,672.7 468.6,672.5 472.5,670.8 477.7,668.8 480.0,668.7 485.2,668.5 492.9,667.6 499.4,665.3 509.8,664.7 513.7,659.5 517.5,658.2 520.1,655.6 525.3,656.9 530.5,655.2 537.0,656.2 538.3,658.6 544.7,658.2 548.6,656.2 553.8,656.9" fill="none" shape-rendering="crispEdges" stroke="#ff0000" stroke-width="2"/>
</g>
<rect x="569" y="0" width="1" height="103" fill="#000"/>
<rect x="569" y="107" width="1" height="170" fill="#000"/>
<rect x="569" y="281" width="1" height="338" fill="#000"/>
<rect x="569" y="623" width="1" height="66" fill="#000"/>
<rect x="569" y="97" width="9" height="1" fill="#000"/>
<rect x="569" y="87" width="4" height="1" fill="#000"/>
<rect x="569" y="78" width="4" height="1" fill="#000"/>
<rect x="569" y="68" width="4" height="1" fill="#000"/>
<rect x="569" y="58" width="4" height="1" fill="#000"/>
<rect x="569" y="48" width="9" height="1" fill="#000"/>
<rect x="569" y="38" width="4" height="1" fill="#000"/>
<rect x="569" y="29" width="4" height="1" fill="#000"/>
<rect x="569" y="19" width="4" height="1" fill="#000"/>
<rect x="569" y="9" width="4" height="1" fill="#000"/>
<rect x="569" y="273" width="9" height="1" fill="#000"/>
<rect x="569" y="267" width="4" height="1" fill="#000"/>
<rect x="569" y="260" width="9" height="1" fill="#000"/>
<rect x="569" y="253" width="4" height="1" fill="#000"/>
<rect x="569" y="247" width="9" height="1" fill="#000"/>
<rect x="569" y="240" width="4" height="1" fill="#000"/>
<rect x="569" y="233" width="9" height="1" fill="#000"/>
<rect x="569" y="227" width="4" height="1" fill="#000"/>
<rect x="569" y="220" width="9" height="1" fill="#000"/>
<rect x="569" y="213" width="4" height="1" fill="#000"/>
<rect x="569" y="207" width="9" height="1" fill="#000"/>
<rect x="569" y="200" width="4" height="1" fill="#000"/>
<rect x="569" y="193" width="9" height="1" fill="#000"/>
<rect x="569" y="187" width="4" height="1" fill="#000"/>
<rect x="569" y="180" width="9" height="1" fill="#000"/>
<rect x="569" y="173" width="4" height="1" fill="#000"/>
<rect x="569" y="167" width="9" height="1" fill="#000"/>
<rect x="569" y="160" width="4" height="1" fill="#000"/>
<rect x="569" y="153" width="9" height="1" fill="#000"/>
<rect x="569" y="147" width="4" height="1" fill="#000"/>
<rect x="569" y="140" width="9" height="1" fill="#000"/>
<rect x="569" y="133" width="4" height="1" fill="#000"/>
<rect x="569" y="127" width="9" height="1" fill="#000"/>
<rect x="569" y="120" width="4" height="1" fill="#000"/>
<rect x="569" y="113" width="9" height="1" fill="#000"/>
<rect x="569" y="107" width="4" height="1" fill="#000"/>
<rect x="569" y="614" width="9" height="1" fill="#000"/>
<rect x="569" y="610" width="4" height="1" fill="#000"/>
<rect x="569" y="607" width="4" height="1" fill="#000"/>
<rect x="569" y="603" width="4" height="1" fill="#000"/>
<rect x="569" y="599" width="4" height="1" fill="#000"/>
<rect x="569" y="596" width="9" height="1" fill="#000"/>
<rect x="569" y="592" width="4" height="1" fill="#000"/>
<rect x="569" y="589" width="4" height="1" fill="#000"/>
<rect x="569" y="585" width="4" height="1" fill="#000"/>
<rect x="569" y="581" width="4" height="1" fill="#000"/>
<rect x="569" y="578" width="9" height="1" fill="#000"/>
<rect x="569" y="574" width="4" height="1" fill="#000"/>
<rect x="569" y="571" width="4" height="1" fill="#000"/>
<rect x="569" y="567" width="4" height="1" fill="#000"/>
<rect x="569" y="563" width="4" height="1" fill="#000"/>
<rect x="569" y="560" width="9" height="1" fill="#000"/>
<rect x="569" y="556" width="4" height="1" fill="#000"/>
<rect x="569" y="553" width="4" height="1" fill="#000"/>
<rect x="569" y="549" width="4" height="1" fill="#000"/>
<rect x="569" y="545" width="4" height="1" fill="#000"/>
<rect x="569" y="542" width="9" height="1" fill="#000"/>
<rect x="569" y="538" width="4" height="1" fill="#000"/>
<rect x="569" y="535" width="4" height="1" fill="#000"/>
<rect x="569" y="531" width="4" height="1" fill="#000"/>
<rect x="569" y="527" width="4" height="1" fill="#000"/>
<rect x="569" y="524" width="9" height="1" fill="#000"/>
<rect x="569" y="520" width="4" height="1" fill="#000"/>
<rect x="569" y="517" width="4" height="1" fill="#000"/>
<rect x="569" y="513" width="4" height="1" fill="#000"/>
<rect x="569" y="509" width="4" height="1" fill="#000"/>
<rect x="569" y="506" width="9" height="1" fill="#000"/>
<rect x="569" y="502" width="4" height="1" fill="#000"/>
<rect x="569" y="499" width="4" height="1" fill="#000"/>
<rect x="569" y="495" width="4" height="1" fill="#000"/>
<rect x="569" y="491" width="4" height="1" fill="#000"/>
<rect x="569" y="488" width="9" height="1" fill="#000"/>
<rect x="569" y="484" width="4" height="1" fill="#000"/>
<rect x="569" y="481" width="4" height="1" fill="#000"/>
<rect x="569" y="477" width="4" height="1" fill="#000"/>
<rect x="569" y="473" width="4" height="1" fill="#000"/>
<rect x="569" y="470" width="9" height="1" fill="#000"/>
<rect x="569" y="466" width="4" height="1" fill="#000"/>
<rect x="569" y="463" width="4" height="1" fill="#000"/>
<rect x="569" y="459" width="4" height="1" fill="#000"/>
<rect x="569" y="455" width="4" height="1" fill="#000"/>
<rect x="569" y="452" width="9" height="1" fill="#000"/>
<rect x="569" y="448" width="4" height="1" fill="#000"/>
<rect x="569" y="445" width="4" height="1" fill="#000"/>
<rect x="569" y="441" width="4" height="1" fill="#000"/>
<rect x="569" y="438" width="4" height="1" fill="#000"/>
<rect x="569" y="434" width="9" height="1" fill="#000"/>
<rect x="569" y="430" width="4" height="1" fill="#000"/>
<rect x="569" y="427" width="4" height="1" fill="#000"/>
<rect x="569" y="423" width="4" height="1" fill="#000"/>
<rect x="569" y="420" width="4" height="1" fill="#000"/>
<rect x="569" y="416" width="9" height="1" fill="#000"/>
<rect x="569" y="412" width="4" height="1" fill="#000"/>
<rect x="569" y="409" width="4" height="1" fill="#000"/>
<rect x="569" y="405" width="4" height="1" fill="#000"/>
<rect x="569" y="402" width="4" height="1" fill="#000"/>
<rect x="569" y="398" width="9" height="1" fill="#000"/>
<rect x="569" y="394" width="4" height="1" fill="#000"/>
<rect x="569" y="391" width="4" height="1" fill="#000"/>
<rect x="569" y="387" width="4" height="1" fill="#000"/>
<rect x="569" y="384" width="4" height="1" fill="#000"/>
<rect x="569" y="380" width="9" height="1" fill="#000"/>
<rect x="569" y="376" width="4" height="1" fill="#000"/>
<rect x="569" y="373" width="4" height="1" fill="#000"/>
<rect x="569" y="369" width="4" height="1" fill="#000"/>
<rect x="569" y="366" width="4" height="1" fill="#000"/>
<rect x="569" y="362" width="9" height="1" fill="#000"/>
<rect x="569" y="358" width="4" height="1" fill="#000"/>
<rect x="569" y="355" width="4" height="1" fill="#000"/>
<rect x="569" y="351" width="4" height="1" fill="#000"/>
<rect x="569" y="348" width="4" height="1" fill="#000"/>
<rect x="569" y="344" width="9" height="1" fill="#000"/>
<rect x="569" y="340" width="4" height="1" fill="#000"/>
<rect x="569" y="337" width="4" height="1" fill="#000"/>
<rect x="569" y="333" width="4" height="1" fill="#000"/>
<rect x="569" y="330" width="4" height="1" fill="#000"/>
<rect x="569" y="326" width="9" height="1" fill="#000"/>
<rect x="569" y="322" width="4" height="1" fill="#000"/>
<rect x="569" y="319" width="4" height="1" fill="#000"/>
<rect x="569" y="315" width="4" height="1" fill="#000"/>
<rect x="569" y="312" width="4" height="1" fill="#000"/>
<rect x="569" y="308" width="9" height="1" fill="#000"/>
<rect x="569" y="304" width="4" height="1" fill="#000"/>
<rect x="569" y="301" width="4" height="1" fill="#000"/>
<rect x="569" y="297" width="4" height="1" fill="#000"/>
<rect x="569" y="294" width="4" height="1" fill="#000"/>
<rect x="569" y="290" width="9" height="1" fill="#000"/>
<rect x="569" y="286" width="4" height="1" fill="#000"/>
<rect x="569" y="283" width="4" height="1" fill="#000"/>
<rect x="569" y="684" width="9" height="1" fill="#000"/>
<rect x="569" y="672" width="4" height="1" fill="#000"/>
<rect x="569" y="660" width="9" height="1" fill="#000"/>
<rect x="569" y="648" width="4" height="1" fill="#000"/>
<rect x="569" y="636" width="9" height="1" fill="#000"/>
<rect x="569" y="624" width="4" height="1" fill="#000"/>
<text x="616.0" y="54.2" text-anchor="end" font-size="12" letter-spacing="0.33" font-family="Liberation Sans, Arial, sans-serif" fill="#000">50</text>
<text x="616.0" y="266.0" text-anchor="end" font-size="12" letter-spacing="0.33" font-family="Liberation Sans, Arial, sans-serif" fill="#000">-6000</text>
<text x="616.0" y="253.0" text-anchor="end" font-size="12" letter-spacing="0.33" font-family="Liberation Sans, Arial, sans-serif" fill="#000">-5000</text>
<text x="616.0" y="239.0" text-anchor="end" font-size="12" letter-spacing="0.33" font-family="Liberation Sans, Arial, sans-serif" fill="#000">-4000</text>
<text x="616.0" y="226.0" text-anchor="end" font-size="12" letter-spacing="0.33" font-family="Liberation Sans, Arial, sans-serif" fill="#000">-3000</text>
<text x="616.0" y="213.0" text-anchor="end" font-size="12" letter-spacing="0.33" font-family="Liberation Sans, Arial, sans-serif" fill="#000">-2000</text>
<text x="616.0" y="199.0" text-anchor="end" font-size="12" letter-spacing="0.33" font-family="Liberation Sans, Arial, sans-serif" fill="#000">-1000</text>
<text x="616.0" y="186.0" text-anchor="end" font-size="12" letter-spacing="0.33" font-family="Liberation Sans, Arial, sans-serif" fill="#000">0</text>
<text x="616.0" y="173.0" text-anchor="end" font-size="12" letter-spacing="0.33" font-family="Liberation Sans, Arial, sans-serif" fill="#000">1000</text>
<text x="616.0" y="159.0" text-anchor="end" font-size="12" letter-spacing="0.33" font-family="Liberation Sans, Arial, sans-serif" fill="#000">2000</text>
<text x="616.0" y="146.0" text-anchor="end" font-size="12" letter-spacing="0.33" font-family="Liberation Sans, Arial, sans-serif" fill="#000">3000</text>
<text x="616.0" y="133.0" text-anchor="end" font-size="12" letter-spacing="0.33" font-family="Liberation Sans, Arial, sans-serif" fill="#000">4000</text>
<text x="616.0" y="602.0" text-anchor="end" font-size="12" letter-spacing="0.33" font-family="Liberation Sans, Arial, sans-serif" fill="#000">5500</text>
<text x="616.0" y="584.0" text-anchor="end" font-size="12" letter-spacing="0.33" font-family="Liberation Sans, Arial, sans-serif" fill="#000">6000</text>
<text x="616.0" y="566.0" text-anchor="end" font-size="12" letter-spacing="0.33" font-family="Liberation Sans, Arial, sans-serif" fill="#000">6500</text>
<text x="616.0" y="548.0" text-anchor="end" font-size="12" letter-spacing="0.33" font-family="Liberation Sans, Arial, sans-serif" fill="#000">7000</text>
<text x="616.0" y="530.0" text-anchor="end" font-size="12" letter-spacing="0.33" font-family="Liberation Sans, Arial, sans-serif" fill="#000">7500</text>
<text x="616.0" y="512.0" text-anchor="end" font-size="12" letter-spacing="0.33" font-family="Liberation Sans, Arial, sans-serif" fill="#000">8000</text>
<text x="616.0" y="494.0" text-anchor="end" font-size="12" letter-spacing="0.33" font-family="Liberation Sans, Arial, sans-serif" fill="#000">8500</text>
<text x="616.0" y="476.0" text-anchor="end" font-size="12" letter-spacing="0.33" font-family="Liberation Sans, Arial, sans-serif" fill="#000">9000</text>
<text x="616.0" y="440.0" text-anchor="end" font-size="12" letter-spacing="0.33" font-family="Liberation Sans, Arial, sans-serif" fill="#000">10000</text>
<text x="616.0" y="422.0" text-anchor="end" font-size="12" letter-spacing="0.33" font-family="Liberation Sans, Arial, sans-serif" fill="#000">10500</text>
<text x="616.0" y="404.0" text-anchor="end" font-size="12" letter-spacing="0.33" font-family="Liberation Sans, Arial, sans-serif" fill="#000">11000</text>
<text x="616.0" y="386.0" text-anchor="end" font-size="12" letter-spacing="0.33" font-family="Liberation Sans, Arial, sans-serif" fill="#000">11500</text>
<text x="616.0" y="368.0" text-anchor="end" font-size="12" letter-spacing="0.33" font-family="Liberation Sans, Arial, sans-serif" fill="#000">12000</text>
<text x="616.0" y="350.0" text-anchor="end" font-size="12" letter-spacing="0.33" font-family="Liberation Sans, Arial, sans-serif" fill="#000">12500</text>
<text x="616.0" y="332.0" text-anchor="end" font-size="12" letter-spacing="0.33" font-family="Liberation Sans, Arial, sans-serif" fill="#000">13000</text>
<text x="616.0" y="314.0" text-anchor="end" font-size="12" letter-spacing="0.33" font-family="Liberation Sans, Arial, sans-serif" fill="#000">13500</text>
<text x="616.0" y="296.0" text-anchor="end" font-size="12" letter-spacing="0.33" font-family="Liberation Sans, Arial, sans-serif" fill="#000">14000</text>
<text x="616.0" y="666.0" text-anchor="end" font-size="12" letter-spacing="0.33" font-family="Liberation Sans, Arial, sans-serif" fill="#000">10000</text>
<text x="616.0" y="642.0" text-anchor="end" font-size="12" letter-spacing="0.33" font-family="Liberation Sans, Arial, sans-serif" fill="#000">20000</text>
<rect x="574" y="441" width="44" height="16" fill="#000"/>
<text x="575.5" y="453" font-size="11" font-family="Liberation Sans, Arial, sans-serif" fill="#ff0000">95500.00</text>
<rect x="571" y="606" width="19" height="13" fill="#fff"/><path d="M571.5,619 V606.5 H589.5 V619" fill="none" stroke="#000" stroke-width="1"/>
<text x="572.8" y="616" font-size="9" font-family="Liberation Sans, Arial, sans-serif" fill="#000">x10</text>
<rect x="571" y="675" width="29" height="13" fill="#fff"/><path d="M571.5,688 V675.5 H599.5 V688" fill="none" stroke="#000" stroke-width="1"/>
<text x="573" y="685" font-size="9" font-family="Liberation Sans, Arial, sans-serif" fill="#000">x1000</text>
<rect x="571" y="689" width="47" height="15" fill="#f0f0f0"/>
<rect x="0" y="688" width="570" height="1" fill="#000"/>
<svg x="0" y="688" width="570" height="16" overflow="hidden">
<rect x="11" y="0" width="1" height="16" fill="#000"/>
<text x="13" y="13.9" font-size="12" letter-spacing="-0.4" font-family="Liberation Sans, Arial, sans-serif" fill="#000">Mar</text>
<rect x="40" y="0" width="1" height="16" fill="#000"/>
<text x="42" y="13.9" font-size="12" letter-spacing="-0.4" font-family="Liberation Sans, Arial, sans-serif" fill="#000">Apr</text>
<rect x="66" y="0" width="1" height="16" fill="#000"/>
<text x="68" y="13.9" font-size="12" letter-spacing="-0.4" font-family="Liberation Sans, Arial, sans-serif" fill="#000">May</text>
<rect x="97" y="0" width="1" height="16" fill="#000"/>
<text x="99" y="13.9" font-size="12" letter-spacing="-0.4" font-family="Liberation Sans, Arial, sans-serif" fill="#000">Jun</text>
<rect x="124" y="0" width="1" height="16" fill="#000"/>
<text x="126" y="13.9" font-size="12" letter-spacing="-0.4" font-family="Liberation Sans, Arial, sans-serif" fill="#000">Jul</text>
<rect x="156" y="0" width="1" height="16" fill="#000"/>
<text x="158" y="13.9" font-size="12" letter-spacing="-0.4" font-family="Liberation Sans, Arial, sans-serif" fill="#000">Aug</text>
<rect x="186" y="0" width="1" height="16" fill="#000"/>
<text x="188" y="13.9" font-size="12" letter-spacing="-0.4" font-family="Liberation Sans, Arial, sans-serif" fill="#000">Sep</text>
<rect x="213" y="0" width="1" height="16" fill="#000"/>
<text x="215" y="13.9" font-size="12" letter-spacing="-0.4" font-family="Liberation Sans, Arial, sans-serif" fill="#000">Oct</text>
<rect x="244" y="0" width="1" height="16" fill="#000"/>
<text x="246" y="13.9" font-size="12" letter-spacing="-0.4" font-family="Liberation Sans, Arial, sans-serif" fill="#000">Nov</text>
<rect x="273" y="0" width="1" height="16" fill="#000"/>
<text x="275" y="13.9" font-size="12" letter-spacing="-0.4" font-family="Liberation Sans, Arial, sans-serif" fill="#000">Dec</text>
<rect x="304" y="0" width="1" height="16" fill="#000"/>
<text x="306" y="13.9" font-size="12" letter-spacing="0.33" font-family="Liberation Sans, Arial, sans-serif" fill="#000">2025</text>
<rect x="355" y="0" width="1" height="16" fill="#000"/>
<text x="357" y="13.9" font-size="12" letter-spacing="-0.4" font-family="Liberation Sans, Arial, sans-serif" fill="#000">Mar</text>
<rect x="384" y="0" width="1" height="16" fill="#000"/>
<text x="386" y="13.9" font-size="12" letter-spacing="-0.4" font-family="Liberation Sans, Arial, sans-serif" fill="#000">Apr</text>
<rect x="411" y="0" width="1" height="16" fill="#000"/>
<text x="413" y="13.9" font-size="12" letter-spacing="-0.4" font-family="Liberation Sans, Arial, sans-serif" fill="#000">May</text>
<rect x="439" y="0" width="1" height="16" fill="#000"/>
<text x="441" y="13.9" font-size="12" letter-spacing="-0.4" font-family="Liberation Sans, Arial, sans-serif" fill="#000">Jun</text>
<rect x="468" y="0" width="1" height="16" fill="#000"/>
<text x="470" y="13.9" font-size="12" letter-spacing="-0.4" font-family="Liberation Sans, Arial, sans-serif" fill="#000">Jul</text>
<rect x="500" y="0" width="1" height="16" fill="#000"/>
<text x="502" y="13.9" font-size="12" letter-spacing="-0.4" font-family="Liberation Sans, Arial, sans-serif" fill="#000">Aug</text>
<rect x="529" y="0" width="1" height="16" fill="#000"/>
<text x="531" y="13.9" font-size="12" letter-spacing="-0.4" font-family="Liberation Sans, Arial, sans-serif" fill="#000">Sep</text>
<rect x="555" y="0" width="1" height="16" fill="#000"/>
<text x="557" y="13.9" font-size="12" letter-spacing="-0.4" font-family="Liberation Sans, Arial, sans-serif" fill="#000">Oct</text>
<rect x="327" y="0" width="1" height="3" fill="#000"/>
</svg>
<rect x="0" y="103" width="618" height="1" fill="#f0f0f0"/>
<rect x="0" y="104" width="618" height="1" fill="#ffffff"/>
<rect x="0" y="105" width="618" height="1" fill="#a0a0a0"/>
<rect x="0" y="106" width="618" height="1" fill="#606060"/>
<rect x="0" y="277" width="618" height="1" fill="#f0f0f0"/>
<rect x="0" y="278" width="618" height="1" fill="#ffffff"/>
<rect x="0" y="279" width="618" height="1" fill="#a0a0a0"/>
<rect x="0" y="280" width="618" height="1" fill="#606060"/>
<rect x="0" y="619" width="618" height="1" fill="#f0f0f0"/>
<rect x="0" y="620" width="618" height="1" fill="#ffffff"/>
<rect x="0" y="621" width="618" height="1" fill="#a0a0a0"/>
<rect x="0" y="622" width="618" height="1" fill="#606060"/>
</svg></body></html>
